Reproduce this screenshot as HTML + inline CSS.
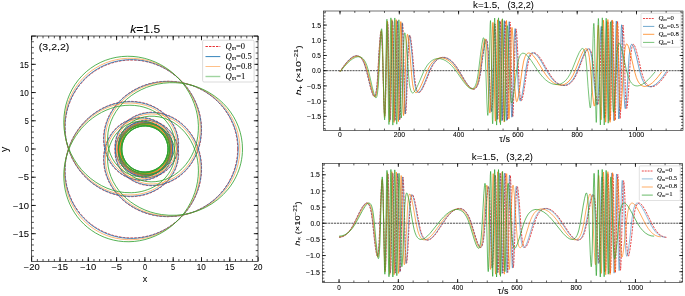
<!DOCTYPE html>
<html><head><meta charset="utf-8"><style>
html,body{margin:0;padding:0;background:#fff;}
svg{display:block;will-change:transform;}
text{font-family:"Liberation Sans",sans-serif;fill:#000;stroke:#000;stroke-width:0.06px;}
</style></head><body>
<svg width="685" height="296" viewBox="0 0 685 296">
<rect width="685" height="296" fill="#fff"/>
<clipPath id="cl"><rect x="31.6" y="36.0" width="226.4" height="225.3"/></clipPath>
<g clip-path="url(#cl)" fill="none">
<path d="M237.71 149.00l-.12 -3.92 -.35 -3.92 -.59 -3.88 -.82 -3.84 -1.05 -3.8 -1.28 -3.74 -1.49 -3.65 -1.71 -3.56 -1.92 -3.45 -2.13 -3.35 -2.33 -3.22 -2.52 -3.1 -2.71 -2.95 -2.86 -2.78 -3.04 -2.62 -3.18 -2.45 -3.32 -2.26 -3.47 -2.09 -3.57 -1.87 -3.69 -1.68 -3.79 -1.47 -3.84 -1.24 -3.92 -1.03 -3.97 -.8 -4.03 -.58 -4.03 -.35 -4.05 -.13 -4.03 .11 -4.03 .34 -3.98 .56 -3.95 .8 -3.87 1.01 -4.22 1.38 -4.1 1.65 -3.96 1.9 -3.81 2.15 -3.64 2.4 -3.46 2.62 -3.26 2.83 -3.01 3.02 -2.8 3.22 -2.53 3.38 -2.27 3.53 -1.98 3.65 -1.7 3.77 -1.39 3.84 -1.08 3.92 -.77 3.97 -.46 4.1 -.11 4.06 .23 4.03 .57 3.95 .91 3.88 1.23 3.74 1.55 3.57 1.86 3.4 2.16 3.19 2.44 2.96 2.7 2.69 2.92 2.4 3.11 2.07 3.32 1.76 3.44 1.39 3.51 1.03 4.01 .69 4.07 .23 4.01 -.27 3.96 -.74 3.83 -1.22 3.59 -1.66 3.34 -2.08 3.05 -2.48 2.69 -2.83 2.33 -3.19 1.87 -3.43 1.4 -3.63 .91 -3.76 .39 -3.87 -.12 -3.85 -.64 -3.77 -1.06 -3.45 -1.51 -3.3 -1.89 -3.04 -2.28 -2.79 -2.64 -2.48 -2.9 -2.09 -3.16 -1.7 -3.36 -1.28 -3.52 -.82 -3.54 -.35 -3.57 .11 -3.53 .59 -3.43 1.06 -3.21 1.48 -2.99 1.89 -2.72 2.27 -2.43 2.67 -2.05 2.97 -1.62 3.24 -1.15 3.36 -.7 3.56 -.2 3.56 .29 3.56 .78 3.49 1.24 3.35 1.69 3.16 2.11 2.9 2.48 2.58 2.82 2.23 3.1 1.81 3.33 1.38 3.48 .9 3.51 .42 3.54 -.06 3.5 -.54 3.39 -1 3.23 -1.45 2.95 -1.84 2.72 -2.26 2.39 -2.6 1.98 -2.85 1.61 -3.14 1.17 -3.33 .71 -3.46 .23 -3.52 -.24 -3.51 -.72 -3.45 -1.18 -3.32 -1.61 -3.13 -2.02 -2.89 -2.38 -2.58 -2.71 -2.25 -2.98 -1.86 -3.2 -1.44 -3.36 -1.01 -3.52 -.56 -3.5 -.09 -3.54 .38 -3.39 .84 -3.3 1.29 -3.09 1.71 -2.84 2.1 -2.53 2.45 -2.21 2.8 -2.09 3.61 -1.52 3.92 -.89 4.1 -.25 4.17 .39 4.2 1.03 4.08 1.65 3.91 2.22 3.6 2.71 3.2 3.19 2.79 3.59 2.31 3.87 1.74 4.16 1.19 4.25 .56 4.3 -.06 4.27 -.67 3.84 -1.15 3.72 -1.67 3.43 -2.1 3.19 -2.57 2.84 -2.94 2.48 -3.32 2.05 -3.6 1.61 -3.86 1.13 -4.01 .66 -4.14 .17 -4.23 -.31 -4.28 -.81 -4.24 -1.27 -4.14 -1.74 -4.02 -2.16 -3.81 -3.07 -4.23 -3.59 -3.85 -4.06 -3.45 -4.52 -3.02 -4.87 -2.51 -5.15 -1.97 -5.42 -1.43 -5.59 -.86 -5.69 -.28 -5.72 .28 -5.72 .85 -5.67 1.42 -5.58 1.96 -5.39 2.49 -5.18 2.99 -4.92 3.47 -3.87 3.23 -3.63 3.51 -3.37 3.78 -3.1 4.04 -2.82 4.27 -2.49 4.46 -2.17 4.61 -1.83 4.78 -1.49 4.89 -1.13 5 -.77 5.04 -.4 5.08 -.03 5.1 .33 5.07 .71 5.02 1.06 4.95 1.42 4.83 1.76 4.7 2.11 4.56 2.43 4.38 2.74 4.16 3.05 3.96 3.33 3.7 3.58 3.44 3.83 3.15 4.06 2.86 4.28 2.55 4.44 2.21 4.61 1.87 4.74 1.53 4.85 1.17 4.92 .8 3.72 .35 3.73 .15 3.74 -.05 3.73 -.26 3.72 -.47 3.7 -.68 3.65 -.87 3.61 -1.07 3.56 -1.27 3.49 -1.46 3.41 -1.66 3.31 -1.83 3.23 -2.01 3.11 -2.18 2.99 -2.36 2.87 -2.51 2.73 -2.65 2.59 -2.82 2.43 -2.92 2.27 -3.07 2.11 -3.19 1.92 -3.27 1.74 -3.37 1.56 -3.45 1.36 -3.53 1.17 -3.59 .97 -3.64 .76 -3.69 .56 -3.71 .35 -3.7 .14 -3.71 -.07 -3.69 -.32 -4.11 -.59 -4.07 -.85 -4 -1.12 -3.94 -1.36 -3.81 -1.6 -3.67 -1.85 -3.54 -2.08 -3.39 -2.3 -3.22 -2.5 -3 -2.69 -2.79 -2.86 -2.57 -3.02 -2.32 -3.19 -2.08 -3.31 -1.81 -3.43 -1.54 -3.58 -1.27 -3.65 -.96 -3.71 -.64 -3.7 -.32 -3.72 .01 -3.64 .34 -3.57 .65 -3.5 .98 -3.36 1.29 -3.23 1.6 -3.02 1.88 -2.79 2.14 -2.56 2.39 -2.3 2.63 -2.03 2.85 -1.69 2.98 -1.59 3.72 -1.12 3.87 -.62 3.99 -.12 3.96 .39 3.99 .88 3.84 1.37 3.68 1.85 3.5 2.28 3.2 2.67 2.86 3.01 2.46 3.33 2.05 3.54 1.56 3.75 1.08 3.82 .55 3.89 .03 3.57 -.46 3.5 -.93 3.31 -1.35 3.11 -1.77 2.87 -2.17 2.52 -2.49 2.18 -2.81 1.79 -3.08 1.38 -3.29 .91 -3.4 .46 -3.55 -.01 -3.53 -.48 -3.5 -.95 -3.42 -1.4 -3.26 -1.83 -3.05 -2.26 -2.82 -2.59 -2.45 -2.9 -2.09 -3.16 -1.67 -3.37 -1.23 -3.5 -.77 -3.57 -.28 -3.53 .2 -3.52 .69 -3.4 1.16 -3.21 1.62 -2.91 2 -2.65 2.43 -2.26 2.71 -1.9 3.05 -1.44 3.22 -.99 3.39 -.53 3.5 -.04 3.53 .44 3.5 .91 3.41 1.36 3.26 1.79 3.04 2.23 2.82 2.55 2.45 2.86 2.07 3.11 1.68 3.36 1.26 3.45 .78 3.51 .31 3.52 -.17 3.53 -.65 3.34 -1.1 3.17 -1.53 2.93 -1.94 2.68 -2.34 2.3 -2.64 1.97 -2.97 1.51 -3.14 1.11 -3.37 .65 -3.48 .17 -3.52 -.29 -3.52 -.77 -3.49 -1.2 -3.3 -1.65 -3.16 -2.04 -2.91 -2.41 -2.61 -3.45 -2.79 -3.84 -2.18 -4.12 -1.54 -4.35 -.88 -4.42 -.17 -4.42 .53 -4.31 1.22 -4.04 1.86 -3.73 2.48 -3.31 3.04 -2.8 3.47 -2.27 3.91 -1.66 4.22 -1.01 4.43 -.36 4.58 .32 4.59 .85 4.08 1.39 3.99 1.91 3.82 2.38 3.54 2.82 3.25 3.22 2.9 3.57 2.51 3.86 2.07 4.09 1.63 4.25 1.15 4.46 .68 4.5 .19 4.53 -.3 4.55 -.78 4.49 -1.28 4.36 -1.73 5.01 -2.66 4.71 -3.26 4.35 -3.8 3.95 -4.33 3.5 -4.78 2.99 -5.17 2.47 -5.51 1.9 -5.8 1.33 -5.97 .74 -6.14 .15 -6.25 -.46 -6.25 -1.04 -6.23 -1.62 -6.13 -2.19 -5.99 -2.73 -5.76 -2.89 -4.96 -3.29 -4.72 -3.67 -4.45 -4 -4.12 -4.33 -3.8 -4.61 -3.43 -4.87 -3.04 -5.1 -2.63 -5.28 -2.21 -5.43 -1.76 -5.53 -1.3 -5.62 -.84 -5.64 -.37 -5.66 .1 -5.6 .57 -5.53 1.05 -5.4 1.5 -5.25 1.94 -5.06 2.39 -4.84 2.81 -4.59 3.2 -4.29 3.59 -3.98 3.94 -3.64 4.27 -3.27 4.57 -2.88 4.84 -2.48 5.08 -2.04 5.27 -1.61 5.44 -1.15 5.57 -.7 5.65 -.23 5.71 .31 6.62 .93 6.57 1.55 6.48 2.14 6.3 2.73 6.07 3.26 5.77 3.79 5.43 4.29 5.05 4.73 4.6 5.13 4.11 5.45 3.55 5.75 2.99 5.98 2.38 6.13 1.74 6.22 1.08 6.21 .42 3.43 -.06 3.38 -.27 3.35 -.47 3.27 -.66 3.24 -.88 3.13 -1.07 3.04 -1.26 2.92 -1.45 2.81 -1.62 2.7 -1.82 2.51 -1.96 2.38 -2.14 2.2 -2.28 2.01 -2.39 1.83 -2.54 1.62 -2.64 1.43 -2.78 1.21 -2.85 .97 -2.92 .75 -2.99 .5 -3.03 .25 -3.01 .01 -3.06 -.24 -2.99 -.48 -2.94 -.74 -2.92 -.97 -2.79 -1.21 -2.72 -1.44 -2.59 -1.64 -2.44 -1.84 -2.26 -2.01 -2.07 -3.02 -2.51 -3.24 -2.1 -3.46 -1.67 -3.63 -1.24 -3.73 -.77 -3.83 -.29 -3.76 .18 -3.74 .66 -3.64 1.15 -3.43 1.59 -3.16 2.01 -2.89 2.42 -2.52 2.75 -2.15 3.08 -1.69 3.29 -1.25 3.51 -.74 3.48 -.28 3.5 .16 3.52 .63 3.47 1.08 3.38 1.48 3.17 1.92 3 2.27 2.68 2.61 2.37 2.9 2.01 3.15 1.61 3.29 1.17 3.41 .73 3.49 .28 3.49 -.18 3.45 -.65 3.39 -1.12 3.16 -1.53 2.93 -1.95 2.64 -2.32 2.31 -2.65 1.93 -2.94 1.53 -3.17 1.08 -3.36 .62 -3.46 .14 -3.52 -.33 -3.52 -.81 -3.43 -1.26 -3.29 -1.7 -3.1 -2.1 -2.84 -2.43 -2.49 -2.78 -2.17 -3 -1.76 -3.21 -1.34 -3.42 -.91 -3.45 -.45 -3.54 .03 -3.44 .49 -3.4 .95 -3.19 1.39 -3.02 1.82 -2.75 2.21 -2.42 2.56 -2.03 2.81 -1.65 3.11 -1.23 3.29 -.77 3.43 -.3 3.43 .16 3.5 .62 3.45 1.07 3.33 1.51 3.15 1.9 2.93 2.27 2.65 2.6 2.32 2.87 1.96 3.16 1.6 3.27 1.14 3.44 .73 3.51 .27 3.56 -.2 3.43 -.63 3.37 -1.1 3.87 -1.9 3.51 -2.47 3.11 -3.01 2.58 -3.44 2.05 -3.82 1.42 -4.08 .79 -4.27 .13 -4.37 -.53 -4.3 -1.17 -4.21 -1.79 -4 -2.37 -3.71 -2.89 -3.34 -3.35 -2.89 -3.78 -2.42 -4.08 -1.86 -3.94 -1.2 -4.12 -.69 -4.16 -.18 -4.2 .34 -4.16 .85 -4.02 1.35 -3.9 1.83 -3.68 2.3 -3.4 2.7 -3.08 3.08 -2.76 3.44 -2.37 3.72 -1.99 4.02 -1.58 4.24 -1.13 4.4 -.7 4.55 -.24 5.31 .35 5.4 .94 5.35 1.52 5.29 2.07 5.15 2.63 4.99 3.12 4.72 3.63 4.47 4.04 4.11 4.46 3.77 4.82 3.35 5.14 2.93 5.42 2.47 5.62 2 5.84 1.51 5.94 1 7.34 .52 7.39 -.23 7.33 -1 7.18 -1.75 6.97 -2.48 6.65 -3.18 6.27 -3.84 5.82 -4.46 5.3 -5.03 4.71 -5.54 4.08 -5.99 3.41 -6.37 2.69 -6.69 1.94 -6.91 1.18 -7.07 .39 -7.17" stroke="#e41a1c" stroke-width="0.8" stroke-opacity="1" stroke-dasharray="2.6 1.2"/>
<path d="M238.23 149.00l-.12 -3.92 -.35 -3.89 -.59 -3.88 -.81 -3.83 -1.05 -3.77 -1.27 -3.72 -1.5 -3.65 -1.7 -3.55 -1.92 -3.45 -2.12 -3.33 -2.32 -3.21 -2.51 -3.09 -2.7 -2.94 -2.86 -2.78 -3.03 -2.62 -3.17 -2.44 -3.32 -2.26 -3.45 -2.08 -3.58 -1.88 -3.67 -1.67 -3.76 -1.47 -3.85 -1.25 -3.92 -1.04 -3.96 -.81 -4.01 -.59 -4.04 -.36 -4.04 -.13 -4.03 .1 -4.02 .32 -3.98 .55 -3.95 .78 -3.88 1 -4.21 1.36 -4.12 1.64 -3.97 1.88 -3.83 2.14 -3.66 2.38 -3.46 2.59 -3.26 2.81 -3.04 3.02 -2.8 3.19 -2.55 3.37 -2.28 3.51 -2.01 3.66 -1.72 3.76 -1.4 3.83 -1.11 3.91 -.78 3.93 -.47 4.06 -.13 4.07 .21 4.02 .55 3.96 .89 3.85 1.23 3.75 1.54 3.58 1.84 3.37 2.16 3.21 2.42 2.93 2.67 2.67 2.93 2.41 3.09 2.05 3.28 1.74 3.41 1.38 3.54 1.01 3.97 .68 4.04 .21 3.98 -.28 3.86 -.74 3.79 -1.22 3.55 -1.66 3.31 -2.08 3 -2.47 2.65 -2.82 2.29 -3.16 1.81 -3.36 1.37 -3.6 .88 -3.72 .37 -3.83 -.14 -3.81 -.65 -3.72 -1.07 -3.41 -1.51 -3.25 -1.88 -3 -2.27 -2.74 -2.62 -2.43 -2.88 -2.05 -3.13 -1.66 -3.33 -1.24 -3.47 -.79 -3.5 -.33 -3.53 .14 -3.48 .6 -3.37 1.06 -3.16 1.48 -2.99 1.92 -2.66 2.26 -2.38 2.65 -2 2.95 -1.58 3.2 -1.11 3.33 -.66 3.52 -.17 3.51 .3 3.51 .79 3.44 1.25 3.3 1.68 3.1 2.1 2.85 2.47 2.53 2.8 2.18 3.07 1.77 3.28 1.34 3.44 .88 3.47 .39 3.49 -.08 3.44 -.54 3.34 -1.01 3.18 -1.45 2.95 -1.86 2.67 -2.24 2.34 -2.58 1.97 -2.88 1.56 -3.11 1.13 -3.29 .67 -3.41 .2 -3.48 -.26 -3.46 -.73 -3.4 -1.19 -3.26 -1.61 -3.08 -2 -2.83 -2.37 -2.54 -2.68 -2.19 -2.95 -1.82 -3.17 -1.41 -3.32 -.98 -3.47 -.53 -3.45 -.07 -3.49 .39 -3.4 .86 -3.25 1.29 -3.04 1.71 -2.78 2.1 -2.48 2.43 -2.17 2.78 -2.04 3.57 -1.48 3.9 -.86 4.06 -.22 4.13 .42 4.15 1.05 4.03 1.64 3.8 2.21 3.55 2.75 3.2 3.18 2.73 3.57 2.26 3.85 1.69 4.07 1.12 4.21 .52 4.27 -.09 4.22 -.7 3.79 -1.17 3.67 -1.68 3.38 -2.12 3.13 -2.56 2.78 -2.95 2.4 -3.26 2 -3.58 1.57 -3.83 1.09 -3.98 .62 -4.12 .14 -4.19 -.35 -4.19 -.82 -4.2 -1.3 -4.09 -1.75 -3.98 -2.16 -3.76 -3.08 -4.18 -3.59 -3.8 -4.06 -3.4 -4.47 -2.95 -4.82 -2.45 -5.12 -1.93 -5.36 -1.39 -5.55 -.84 -5.66 -.27 -5.67 .3 -5.68 .85 -5.63 1.41 -5.54 1.95 -5.35 2.47 -5.15 2.96 -4.88 3.43 -3.89 3.23 -3.64 3.51 -3.38 3.78 -3.11 4.03 -2.83 4.25 -2.5 4.45 -2.19 4.62 -1.85 4.76 -1.5 4.89 -1.15 4.97 -.79 5.06 -.42 5.08 -.06 5.09 .32 5.06 .67 5.03 1.05 4.95 1.39 4.84 1.74 4.7 2.09 4.57 2.41 4.38 2.71 4.17 3.02 3.96 3.32 3.72 3.57 3.45 3.82 3.17 4.03 2.86 4.25 2.55 4.44 2.23 4.58 1.89 4.73 1.53 4.83 1.18 4.92 .82 3.71 .36 3.71 .16 3.72 -.04 3.73 -.25 3.72 -.46 3.68 -.66 3.65 -.86 3.61 -1.06 3.55 -1.25 3.48 -1.45 3.42 -1.64 3.31 -1.82 3.22 -1.99 3.11 -2.16 2.99 -2.33 2.88 -2.5 2.74 -2.65 2.6 -2.78 2.44 -2.93 2.29 -3.04 2.12 -3.17 1.93 -3.25 1.77 -3.37 1.57 -3.44 1.39 -3.51 1.19 -3.58 .99 -3.63 .79 -3.66 .59 -3.68 .38 -3.7 .17 -3.71 -.04 -3.7 -.29 -4.11 -.56 -4.09 -.81 -4.02 -1.08 -3.92 -1.32 -3.81 -1.57 -3.71 -1.81 -3.54 -2.04 -3.41 -2.27 -3.23 -2.46 -3.02 -2.68 -2.84 -2.84 -2.58 -2.99 -2.35 -3.17 -2.11 -3.29 -1.83 -3.38 -1.56 -3.56 -1.29 -3.66 -1 -3.66 -.66 -3.7 -.35 -3.68 -.02 -3.65 .3 -3.58 .63 -3.47 .95 -3.38 1.27 -3.2 1.57 -3 1.85 -2.8 2.13 -2.58 2.39 -2.29 2.6 -2.01 2.8 -1.7 2.99 -1.58 3.68 -1.11 3.84 -.63 3.95 -.11 3.92 .37 3.9 .88 3.81 1.34 3.64 1.83 3.46 2.26 3.17 2.64 2.83 2.97 2.43 3.29 2.03 3.51 1.55 3.71 1.06 3.78 .54 3.78 .03 3.53 -.45 3.46 -.91 3.26 -1.33 3.08 -1.75 2.83 -2.14 2.49 -2.45 2.19 -2.82 1.77 -3.04 1.36 -3.25 .91 -3.41 .45 -3.5 -.03 -3.49 -.48 -3.45 -.95 -3.37 -1.38 -3.21 -1.81 -3 -2.24 -2.79 -2.56 -2.41 -2.87 -2.06 -3.11 -1.64 -3.32 -1.21 -3.46 -.75 -3.53 -.28 -3.53 .21 -3.48 .69 -3.35 1.15 -3.16 1.61 -2.86 1.98 -2.62 2.4 -2.22 2.68 -1.87 3.01 -1.41 3.18 -.97 3.35 -.51 3.44 -.04 3.48 .43 3.46 .9 3.36 1.35 3.21 1.76 3 2.2 2.78 2.52 2.41 2.81 2.06 3.07 1.65 3.32 1.24 3.39 .78 3.53 .3 3.47 -.16 3.48 -.64 3.3 -1.09 3.12 -1.51 2.88 -1.91 2.65 -2.32 2.27 -2.6 1.94 -2.93 1.52 -3.15 1.09 -3.32 .63 -3.44 .17 -3.48 -.29 -3.46 -.77 -3.45 -1.21 -3.31 -1.64 -3.11 -2.02 -2.87 -2.38 -2.57 -3.43 -2.74 -3.81 -2.16 -4.09 -1.51 -4.31 -.84 -4.38 -.15 -4.37 .54 -4.27 1.23 -3.99 1.88 -3.67 2.48 -3.23 2.98 -2.75 3.46 -2.22 3.89 -1.62 4.2 -.98 4.39 -.32 4.5 .34 4.54 .87 4.04 1.41 3.94 1.89 3.73 2.37 3.5 2.81 3.2 3.18 2.83 3.55 2.47 3.84 2.04 4.06 1.59 4.23 1.12 4.42 .65 4.47 .17 4.5 -.32 4.5 -.81 4.42 -1.27 4.31 -1.74 4.93 -2.64 4.68 -3.26 4.31 -3.8 3.9 -4.28 3.46 -4.75 2.96 -5.14 2.44 -5.46 1.89 -5.75 1.32 -5.94 .75 -6.1 .15 -6.18 -.43 -6.21 -1.01 -6.18 -1.58 -6.1 -2.14 -5.95 -2.69 -5.78 -2.86 -4.97 -3.27 -4.76 -3.64 -4.47 -4 -4.17 -4.32 -3.84 -4.6 -3.47 -4.87 -3.07 -5.08 -2.67 -5.27 -2.24 -5.43 -1.8 -5.54 -1.34 -5.6 -.87 -5.65 -.4 -5.66 .07 -5.61 .54 -5.54 1.02 -5.4 1.47 -5.26 1.93 -5.08 2.36 -4.85 2.79 -4.6 3.2 -4.31 3.57 -3.98 3.93 -3.65 4.26 -3.28 4.56 -2.9 4.85 -2.48 5.07 -2.05 5.27 -1.62 5.45 -1.16 5.57 -.7 5.66 -.24 5.72 .31 6.62 .92 6.55 1.53 6.45 2.12 6.29 2.71 6.07 3.24 5.77 3.76 5.43 4.25 5.05 4.68 4.6 5.09 4.12 5.42 3.59 5.73 3.02 5.93 2.41 6.1 1.78 6.18 1.13 6.22 .47 3.42 -.03 3.38 -.24 3.35 -.44 3.26 -.64 3.21 -.84 3.14 -1.03 3.04 -1.23 2.94 -1.42 2.82 -1.6 2.68 -1.78 2.53 -1.94 2.37 -2.08 2.22 -2.26 2.03 -2.38 1.83 -2.49 1.64 -2.62 1.47 -2.78 1.22 -2.84 1 -2.93 .75 -2.94 .52 -2.99 .27 -3.02 .03 -3.02 -.23 -2.99 -.47 -2.96 -.72 -2.88 -.96 -2.8 -1.18 -2.69 -1.41 -2.56 -1.64 -2.45 -1.81 -2.23 -2.02 -2.08 -2.98 -2.49 -3.21 -2.08 -3.43 -1.66 -3.59 -1.22 -3.69 -.76 -3.79 -.29 -3.72 .18 -3.69 .66 -3.55 1.11 -3.39 1.58 -3.13 1.98 -2.86 2.39 -2.49 2.72 -2.12 3.04 -1.7 3.31 -1.23 3.46 -.72 3.44 -.27 3.45 .17 3.48 .62 3.43 1.07 3.33 1.47 3.12 1.9 2.96 2.24 2.64 2.58 2.34 2.87 1.98 3.1 1.59 3.24 1.15 3.43 .72 3.44 .27 3.45 -.19 3.4 -.65 3.34 -1.11 3.11 -1.52 2.93 -1.96 2.6 -2.3 2.27 -2.62 1.9 -2.91 1.49 -3.13 1.05 -3.31 .6 -3.42 .13 -3.48 -.33 -3.46 -.81 -3.38 -1.25 -3.25 -1.68 -3.05 -2.08 -2.79 -2.44 -2.49 -2.76 -2.14 -2.96 -1.72 -3.17 -1.31 -3.37 -.9 -3.4 -.42 -3.49 .03 -3.45 .5 -3.36 .96 -3.13 1.38 -2.97 1.81 -2.71 2.19 -2.38 2.54 -1.98 2.77 -1.63 3.07 -1.19 3.25 -.75 3.38 -.29 3.39 .16 3.45 .62 3.4 1.06 3.28 1.49 3.11 1.89 2.88 2.24 2.61 2.61 2.32 2.84 1.93 3.12 1.56 3.29 1.14 3.4 .7 3.46 .25 3.51 -.21 3.38 -.65 3.33 -1.09 3.81 -1.9 3.46 -2.46 3.06 -2.99 2.55 -3.42 2 -3.81 1.38 -4.04 .75 -4.23 .1 -4.33 -.55 -4.26 -1.19 -4.16 -1.81 -3.95 -2.38 -3.65 -2.89 -3.29 -3.35 -2.83 -3.72 -2.34 -4.06 -1.81 -3.91 -1.15 -4.08 -.65 -4.13 -.15 -4.16 .38 -4.11 .88 -3.97 1.36 -3.81 1.84 -3.62 2.3 -3.32 2.68 -3.04 3.07 -2.71 3.43 -2.32 3.7 -1.94 3.96 -1.54 4.22 -1.1 4.37 -.67 4.52 -.22 5.27 .38 5.36 .95 5.31 1.53 5.25 2.09 5.11 2.62 4.94 3.13 4.71 3.61 4.42 4.03 4.08 4.43 3.72 4.8 3.34 5.1 2.91 5.38 2.46 5.6 1.99 5.78 1.51 5.93 1.01 7.38 .55 7.39 -.21 7.34 -.98 7.22 -1.74 6.98 -2.46 6.68 -3.16 6.3 -3.84 5.84 -4.46 5.32 -5.02 4.73 -5.53 4.1 -5.99 3.42 -6.37 2.7 -6.67 1.95 -6.92 1.17 -7.07 .4 -7.17" stroke="#1f77b4" stroke-width="0.8" stroke-opacity="1"/>
<path d="M239.92 149.00l-.25 -5.62 -.73 -5.58 -1.23 -5.52 -1.71 -5.39 -2.17 -5.25 -2.62 -5.04 -3.06 -4.82 -3.46 -4.54 -3.86 -4.27 -4.21 -3.94 -4.56 -3.6 -4.83 -3.21 -5.11 -2.81 -5.33 -2.39 -5.52 -1.96 -5.66 -1.5 -5.97 -1.07 -6.05 -.57 -6.05 -.06 -6.05 .45 -5.96 .96 -5.82 1.45 -5.65 1.94 -5.44 2.41 -5.16 2.86 -4.85 3.29 -4.51 3.69 -4.08 4.03 -3.66 4.38 -3.17 4.65 -2.68 4.89 -2.13 5.08 -1.7 5.7 -1 5.76 -.31 5.76 .4 5.7 1.11 5.54 1.79 5.27 2.46 4.93 3.06 4.49 3.67 4.02 4.18 3.42 2.23 1.44 2.35 1.28 2.39 1.08 2.48 .89 2.53 .7 2.55 .49 2.61 .3 2.59 .08 2.57 -.12 2.56 -.34 2.51 -.53 2.46 -.75 3.31 -1.38 3.1 -1.74 2.85 -2.09 2.57 -2.41 2.24 -2.67 1.91 -2.95 1.52 -3.13 1.12 -3.33 .69 -3.4 .25 -3.49 -.19 -3.46 -.62 -3.36 -1.06 -3.27 -1.47 -3.12 -1.84 -2.88 -2.22 -2.62 -2.45 -2.24 -2.72 -1.92 -2.96 -1.56 -3.09 -1.15 -3.22 -.75 -3.3 -.33 -3.33 .1 -3.29 .53 -3.2 .95 -2.99 1.34 -2.81 1.72 -2.55 2.08 -2.27 2.39 -1.94 2.67 -1.57 2.91 -1.15 3.04 -.76 3.22 -.33 3.3 .12 3.31 .55 3.21 .99 3.17 1.4 3.02 1.8 2.8 2.11 2.5 2.48 2.23 2.71 1.85 2.98 1.5 3.1 1.07 3.28 .66 3.27 .21 3.34 -.23 3.22 -.66 3.1 -1.08 2.93 -1.48 2.7 -1.86 2.44 -2.2 2.12 -2.5 1.77 -2.76 1.39 -2.96 .99 -3.19 .55 -3.22 .12 -3.27 -.32 -3.26 -.76 -3.24 -1.17 -3.05 -1.59 -2.92 -1.93 -2.64 -2.3 -2.4 -2.55 -2.03 -2.79 -1.69 -2.99 -1.3 -3.19 -.92 -3.21 -.48 -3.31 -.06 -3.29 .37 -3.2 .8 -3.07 1.21 -2.87 1.59 -2.64 1.95 -2.37 2.27 -2.04 2.54 -1.73 2.84 -1.34 3.02 -.94 3.16 -.58 3.86 .01 3.88 .61 3.88 1.17 3.73 1.73 3.55 2.23 3.24 2.71 2.9 3.09 2.46 3.4 1.98 3.67 1.48 3.87 .94 3.99 .39 4.03 -.17 3.93 -.74 3.86 -1.28 3.65 -1.82 3.12 -2.09 2.88 -2.51 2.56 -2.85 2.19 -3.15 1.81 -3.43 1.4 -3.61 .97 -3.8 .53 -3.92 .08 -3.94 -.37 -4 -.8 -3.91 -1.24 -3.87 -1.67 -3.76 -2.05 -3.57 -2.44 -3.38 -2.79 -3.16 -3.39 -3.12 -3.74 -2.78 -4.07 -2.42 -4.32 -2.02 -4.52 -1.6 -4.74 -1.19 -4.87 -.74 -4.99 -.3 -5.02 .14 -5.04 .59 -5.01 1.03 -4.94 1.46 -4.86 1.88 -4.71 2.27 -4.55 2.67 -4.35 3.04 -3.89 3.18 -3.68 3.49 -3.42 3.75 -3.16 4.02 -2.86 4.21 -2.56 4.43 -2.24 4.61 -1.91 4.75 -1.57 4.88 -1.21 4.96 -.85 5.03 -.5 5.08 -.12 5.09 .24 5.08 .6 5.02 .96 4.95 1.33 4.86 1.66 4.72 2 4.56 2.34 4.4 2.64 4.2 2.95 3.98 3.24 3.74 3.5 3.47 3.75 3.2 3.98 2.9 4.19 2.59 4.39 2.26 4.53 1.92 4.69 1.58 4.79 1.21 4.87 .85 3.65 .4 3.66 .19 3.68 -.01 3.69 -.22 3.68 -.42 3.66 -.61 3.62 -.82 3.59 -1.01 3.54 -1.22 3.46 -1.39 6.72 -3.35 6.34 -4.06 5.9 -4.72 5.38 -5.32 4.8 -5.86 4.16 -6.32 1.82 -3.33 1.64 -3.39 1.46 -3.49 1.26 -3.53 1.07 -3.6 .87 -3.62 .67 -3.67 .47 -3.66 .27 -3.68 .06 -3.68 -.18 -4.14 -.43 -4.06 -.7 -4.04 -.95 -3.92 -1.21 -3.86 -1.45 -3.73 -1.69 -3.6 -1.91 -3.43 -2.15 -3.27 -2.36 -3.1 -2.55 -2.88 -2.73 -2.67 -2.91 -2.43 -3.06 -2.18 -3.18 -1.92 -3.33 -1.66 -3.52 -1.41 -3.59 -1.09 -3.61 -.76 -3.65 -.45 -3.66 -.12 -3.59 .21 -3.52 .54 -3.48 .86 -3.34 1.18 -3.21 1.5 -3.02 1.79 -2.78 2.05 -2.56 2.32 -2.31 2.57 -1.99 2.74 -1.69 2.93 -1.53 3.53 -1.08 3.68 -.61 3.78 -.13 3.76 .35 3.74 .83 3.69 1.3 3.53 1.74 3.32 2.15 3.03 2.56 2.74 2.87 2.36 3.14 1.93 3.4 1.5 3.53 1.01 3.65 .52 3.65 .02 3.4 -.44 3.27 -.87 3.14 -1.28 2.96 -1.68 2.72 -2.07 2.39 -2.37 2.06 -2.66 1.69 -2.92 1.3 -3.13 .87 -3.28 .42 -3.37 -.03 -3.34 -.47 -3.32 -.92 -3.23 -1.34 -3.08 -1.74 -2.88 -2.17 -2.66 -2.46 -2.31 -2.76 -1.96 -3 -1.57 -3.19 -1.15 -3.32 -.7 -3.39 -.25 -3.33 .21 -3.33 .67 -3.21 1.12 -3.03 1.54 -2.74 1.91 -2.51 2.31 -2.16 2.63 -1.77 2.9 -1.34 3.06 -.93 3.27 -.46 3.31 -.01 3.34 .45 3.3 .88 3.22 1.32 3.07 1.72 2.86 2.13 2.66 2.43 2.29 2.72 1.94 2.95 1.56 3.19 1.17 3.27 .71 3.38 .27 3.33 -.19 3.34 -.65 3.15 -1.06 2.98 -1.48 2.75 -1.86 2.52 -2.24 2.16 -2.52 1.83 -2.82 1.43 -3.05 1.01 -3.2 .58 -3.3 .13 -3.34 -.32 -3.32 -.76 -3.31 -1.18 -3.11 -1.59 -2.98 -1.98 -2.73 -2.31 -2.45 -3.3 -2.6 -3.72 -2.06 -3.99 -1.41 -4.15 -.76 -4.25 -.09 -4.19 .59 -4.07 1.24 -3.86 1.89 -3.48 2.44 -3.09 2.97 -2.6 3.41 -2.06 3.79 -1.47 4.07 -.85 4.25 -.21 4.33 .43 4.38 .92 3.85 1.43 3.75 1.93 3.59 2.35 3.31 2.78 3.02 3.11 2.66 3.47 2.3 3.75 1.9 3.95 1.45 4.1 1 4.24 .54 4.33 .08 4.34 -.38 4.31 -.84 4.26 -1.3 4.16 -1.74 4.74 -2.61 4.5 -3.2 4.14 -3.73 3.77 -4.2 3.33 -4.64 2.88 -5.03 2.36 -5.33 1.84 -5.62 1.3 -5.78 .75 -5.95 .19 -6.05 -.37 -6.08 -.92 -6.06 -1.48 -6 -2.01 -5.87 -2.52 -5.68 -2.8 -5.1 -3.19 -4.84 -3.58 -4.58 -3.94 -4.29 -4.27 -3.94 -4.57 -3.59 -4.83 -3.2 -5.07 -2.78 -5.26 -2.36 -5.41 -1.91 -5.54 -1.45 -5.62 -.98 -5.67 -.5 -5.66 -.03 -5.63 .46 -5.56 .93 -5.44 1.4 -5.28 1.86 -5.09 2.3 -4.89 2.74 -4.61 3.15 -4.35 3.54 -4.02 3.92 -3.68 4.24 -3.3 4.57 -2.91 4.82 -2.5 5.09 -2.07 5.28 -1.63 5.46 -1.17 5.61 -.7 5.69 -.24 5.76 .3 6.52 .91 6.5 1.5 6.41 2.07 6.24 2.64 6.02 3.17 5.75 3.68 5.43 4.16 5.06 4.6 4.64 4.97 4.16 5.32 3.64 5.6 3.09 5.83 2.51 6.01 1.9 6.08 1.26 6.12 .61 3.4 .06 3.35 -.15 3.34 -.35 3.27 -.55 3.22 -.75 3.11 -.94 3.04 -1.14 2.93 -1.32 2.82 -1.51 2.7 -1.68 2.55 -1.85 2.4 -2.01 2.22 -2.15 2.07 -2.3 1.87 -2.43 1.66 -2.52 1.49 -2.68 1.28 -2.79 1.04 -2.84 .81 -2.91 .56 -2.96 .32 -2.94 .07 -3 -.18 -2.93 -.43 -2.89 -.67 -2.83 -.91 -2.75 -1.16 -2.68 -1.36 -2.51 -1.59 -2.39 -1.79 -2.23 -1.97 -2.03 -2.86 -2.39 -3.07 -1.98 -3.28 -1.59 -3.48 -1.18 -3.58 -.73 -3.62 -.27 -3.59 .18 -3.57 .65 -3.43 1.1 -3.27 1.54 -3.01 1.94 -2.7 2.3 -2.39 2.64 -1.99 2.9 -1.6 3.15 -1.16 3.35 -.67 3.31 -.24 3.32 .19 3.34 .62 3.29 1.06 3.19 1.43 2.99 1.82 2.78 2.17 2.52 2.49 2.22 2.76 1.89 3 1.5 3.11 1.08 3.3 .67 3.3 .23 3.31 -.21 3.25 -.64 3.2 -1.1 2.97 -1.48 2.75 -1.87 2.48 -2.22 2.2 -2.58 1.79 -2.8 1.4 -3.02 .99 -3.18 .54 -3.29 .1 -3.33 -.35 -3.31 -.8 -3.24 -1.23 -3.1 -1.64 -2.91 -2.01 -2.67 -2.37 -2.36 -2.66 -2.03 -2.85 -1.62 -3.1 -1.25 -3.25 -.82 -3.26 -.37 -3.34 .06 -3.31 .52 -3.2 .96 -2.99 1.35 -2.83 1.77 -2.57 2.13 -2.26 2.45 -1.9 2.73 -1.52 2.96 -1.11 3.14 -.67 3.25 -.24 3.25 .2 3.3 .64 3.25 1.06 3.14 1.47 2.96 1.84 2.74 2.19 2.47 2.53 2.2 2.75 1.81 3.01 1.46 3.17 1.05 3.28 .62 3.32 .2 3.37 -.25 3.24 -.66 3.18 -1.1 3.67 -1.9 3.32 -2.44 2.87 -2.92 2.41 -3.37 1.84 -3.67 1.27 -3.95 .64 -4.13 -.01 -4.15 -.63 -4.13 -1.24 -3.96 -1.83 -3.75 -2.4 -3.5 -2.86 -3.07 -3.33 -2.68 -3.69 -2.17 -3.96 -1.63 -3.77 -.99 -3.93 -.52 -4.02 -.02 -3.98 .47 -3.93 .96 -3.78 1.41 -3.65 1.88 -3.43 2.31 -3.16 2.69 -2.85 3.04 -2.53 3.37 -2.15 3.63 -1.8 3.91 -1.39 4.1 -.98 4.25 -.55 4.38 -.11 5.13 .45 5.2 1.02 5.16 1.58 5.11 2.11 4.97 2.63 4.8 3.09 4.55 3.57 4.29 3.98 3.98 4.35 3.61 4.7 3.25 5.03 2.86 5.28 2.42 5.5 1.98 5.67 1.51 5.81 1.04 7.41 .62 7.46 -.15 7.4 -.92 7.29 -1.67 7.06 -2.42 6.74 -3.11 6.37 -3.79 5.92 -4.43 5.38 -4.99 4.8 -5.53 4.14 -5.95 3.47 -6.36 2.74 -6.68 1.97 -6.9 1.2 -7.07 .3 -3.57 .1 -3.6" stroke="#ff7f0e" stroke-width="0.8" stroke-opacity="0.7"/>
<path d="M242.48 149.00l-.25 -5.61 -.76 -5.56 -1.25 -5.49 -1.73 -5.36 -2.21 -5.21 -2.67 -5.02 -3.12 -4.78 -3.52 -4.52 -3.93 -4.23 -4.29 -3.9 -4.63 -3.55 -4.91 -3.16 -5.19 -2.76 -5.41 -2.33 -5.61 -1.9 -5.74 -1.43 -5.88 -.98 -5.92 -.49 -5.94 -.02 -5.92 .46 -5.85 .95 -5.71 1.41 -5.56 1.87 -5.32 2.32 -5.1 2.75 -4.8 3.16 -4.45 3.53 -4.07 3.88 -3.65 4.19 -3.2 4.46 -2.7 4.69 -2.21 4.87 -1.8 5.51 -1.14 5.58 -.46 5.62 .23 5.54 .93 5.4 1.6 5.15 2.26 4.85 2.84 4.39 3.48 3.98 3.96 3.37 2.16 1.44 2.25 1.27 2.32 1.08 2.39 .89 2.42 .69 2.49 .5 2.51 .29 2.49 .08 2.46 -.12 2.46 -.32 2.39 -.53 2.37 -.73 3.06 -1.3 2.91 -1.66 2.68 -2 2.4 -2.28 2.08 -2.53 1.77 -2.8 1.39 -2.96 1.01 -3.07 .61 -3.21 .2 -3.21 -.2 -3.23 -.63 -3.2 -1.02 -3.04 -1.41 -2.91 -1.79 -2.71 -2.1 -2.41 -2.35 -2.1 -2.56 -1.74 -2.78 -1.42 -2.94 -1.04 -3.06 -.66 -3.07 -.25 -3.08 .14 -3.05 .54 -2.96 .93 -2.81 1.31 -2.62 1.68 -2.34 1.96 -2.1 2.3 -1.75 2.5 -1.41 2.72 -1.04 2.88 -.66 3.06 -.25 3.06 .16 3.06 .57 3.03 .99 2.98 1.35 2.77 1.71 2.56 2.04 2.32 2.33 2.03 2.58 1.7 2.79 1.34 2.94 .96 3.05 .56 3.09 .14 3.09 -.27 3.02 -.67 2.91 -1.08 2.68 -1.42 2.52 -1.8 2.25 -2.12 1.92 -2.34 1.62 -2.64 1.25 -2.82 .86 -2.97 .45 -2.99 .05 -3.09 -.37 -3.06 -.76 -2.99 -1.16 -2.85 -1.53 -2.68 -1.87 -2.45 -2.18 -2.18 -2.39 -1.83 -2.67 -1.54 -2.84 -1.17 -2.97 -.79 -3.04 -.4 -3.07 .01 -3.03 .4 -3.01 .81 -2.82 1.18 -2.69 1.55 -2.41 1.85 -2.19 2.19 -1.88 2.44 -1.55 2.66 -1.19 2.83 -.83 3.01 -.46 3.64 .1 3.72 .66 3.64 1.2 3.49 1.7 3.25 2.19 3 2.64 2.67 2.99 2.24 3.32 1.78 3.52 1.28 3.69 .76 3.74 .23 3.75 -.3 3.7 -.83 3.56 -1.33 3.4 -1.85 2.87 -2.09 2.64 -2.48 2.28 -2.75 1.96 -3.05 1.58 -3.27 1.19 -3.49 .78 -3.59 .36 -3.69 -.05 -3.71 -.47 -3.75 -.88 -3.65 -1.28 -3.61 -1.67 -3.47 -2.03 -3.32 -2.4 -3.14 -2.72 -2.92 -3.3 -2.9 -3.63 -2.57 -3.94 -2.24 -4.17 -1.84 -4.39 -1.46 -4.56 -1.06 -4.67 -.64 -4.78 -.23 -4.81 .19 -4.83 .6 -4.83 1.02 -4.76 1.41 -4.69 1.81 -4.54 2.18 -4.42 2.56 -4.24 2.9 -3.94 3.14 -3.71 3.44 -3.47 3.71 -3.21 3.96 -2.93 4.18 -2.64 4.39 -2.32 4.58 -2 4.72 -1.66 4.84 -1.31 4.95 -.96 5.01 -.61 5.07 -.24 5.09 .12 5.06 .48 5.02 .84 4.96 1.2 4.86 1.54 4.73 1.88 4.58 2.2 4.41 2.52 4.23 2.83 4.01 3.12 3.77 3.38 3.51 3.64 3.23 3.88 2.95 4.08 2.64 4.28 2.3 4.45 1.98 4.6 1.63 4.7 1.27 4.82 .91 5.26 .57 5.32 .14 5.34 -.29 5.32 -.72 5.27 -1.15 5.17 -1.56 5.07 -1.97 4.92 -2.37 4.74 -2.76 4.53 -3.12 4.29 -3.46 4.02 -3.78 3.73 -4.08 3.41 -4.34 3.08 -4.61 2.71 -4.8 2.36 -5.05 1.96 -5.21 1.54 -5.3 1.12 -5.39 .68 -5.44 .24 -5.44 -.2 -5.37 -.65 -5.31 -1.09 -5.21 -1.52 -5.03 -1.93 -4.84 -2.34 -4.58 -2.72 -4.28 -3.08 -3.98 -3.41 -3.61 -3.7 -3.2 -4.35 -3.02 -4.6 -2.46 -4.82 -1.89 -4.92 -1.26 -4.96 -.63 -4.97 .01 -4.87 .66 -4.67 1.29 -4.47 1.94 -4.07 2.5 -3.62 3.04 -3.12 3.54 -2.53 3.96 -1.85 4.23 -1.16 4.44 -.43 4.52 .16 3.37 .57 3.35 .96 3.18 1.36 3.06 1.72 2.84 2.07 2.62 2.37 2.31 2.67 2 2.87 1.63 3.07 1.24 3.17 .82 3.27 .41 3.31 -.03 3.23 -.47 3.15 -.89 2.96 -1.27 2.67 -1.6 2.45 -1.92 2.18 -2.24 1.85 -2.45 1.55 -2.74 1.15 -2.85 .78 -3 .37 -3.07 -.02 -3.1 -.44 -3.08 -.85 -2.99 -1.21 -2.81 -1.6 -2.68 -1.91 -2.4 -2.2 -2.13 -2.48 -1.82 -2.75 -1.52 -2.87 -1.11 -3 -.72 -3.07 -.32 -3.15 .09 -3.05 .51 -2.95 .9 -2.81 1.3 -2.62 1.65 -2.36 1.99 -2.08 2.29 -1.76 2.54 -1.4 2.76 -1.02 2.92 -.61 3.03 -.21 3.08 .22 3.09 .62 3.02 1.03 2.92 1.4 2.75 1.77 2.54 2.08 2.28 2.38 1.99 2.67 1.67 2.82 1.28 2.96 .89 3.05 .49 3.15 .08 3.07 -.34 2.99 -.74 2.87 -1.13 2.74 -1.52 2.46 -1.84 2.2 -2.15 1.89 -2.41 1.59 -2.69 1.19 -2.81 .83 -3 .42 -3.08 .02 -3.1 -.4 -3.07 -.79 -2.98 -1.17 -2.86 -1.56 -2.72 -1.86 -2.45 -2.2 -2.22 -2.46 -1.91 -2.67 -1.58 -3.62 -1.48 -3.78 -.89 -3.92 -.28 -3.89 .34 -3.82 .95 -3.61 1.52 -3.36 2.07 -3.02 2.59 -2.61 3.03 -2.09 3.36 -1.58 3.65 -1.03 3.86 -.45 3.98 .13 4.07 .72 4.01 1.27 3.86 1.63 3.38 2.05 3.14 2.44 2.9 2.77 2.59 3.09 2.26 3.36 1.9 3.59 1.52 3.79 1.12 3.91 .7 3.98 .27 4.03 -.15 4.03 -.57 3.99 -.98 3.93 -1.39 3.8 -1.78 3.66 -2.16 3.99 -2.92 3.69 -3.33 3.39 -3.74 3.03 -4.1 2.66 -4.43 2.27 -4.72 1.84 -4.95 1.42 -5.16 .97 -5.31 .51 -5.41 .06 -5.49 -.4 -5.5 -.85 -5.5 -1.29 -5.44 -1.73 -5.35 -2.15 -5.21 -2.66 -5.23 -3.08 -5 -3.48 -4.76 -3.84 -4.45 -4.19 -4.13 -4.49 -3.76 -4.79 -3.4 -5.02 -2.97 -5.22 -2.55 -5.39 -2.1 -5.54 -1.63 -5.61 -1.16 -5.66 -.67 -5.68 -.19 -5.65 .31 -5.58 .79 -5.47 1.27 -5.31 1.74 -5.14 2.2 -4.91 2.64 -4.66 3.07 -4.38 3.48 -4.06 3.86 -3.71 4.2 -3.34 4.53 -2.94 4.82 -2.53 5.08 -2.09 5.29 -1.64 5.47 -1.18 5.63 -.72 5.72 -.24 5.81 .29 6.44 .87 6.4 1.44 6.31 2 6.16 2.54 5.98 3.06 5.72 3.55 5.42 4 5.06 4.43 4.68 4.81 4.22 5.16 3.75 5.42 3.21 5.66 2.66 5.83 2.07 5.93 1.47 5.97 .84 6.67 .19 3.28 -.2 3.22 -.4 3.19 -.59 3.1 -.79 3.04 -.98 2.95 -1.17 2.85 -1.36 2.69 -1.52 2.61 -1.72 2.42 -1.85 2.26 -2 2.12 -2.17 1.92 -2.3 1.73 -2.4 1.56 -2.56 1.36 -2.69 1.11 -2.75 .87 -2.78 .64 -2.84 .4 -2.88 .15 -2.89 -.1 -2.88 -.36 -2.85 -.59 -2.75 -.83 -2.66 -1.07 -2.61 -1.31 -2.48 -1.52 -2.33 -1.71 -2.15 -1.93 -2.01 -2.66 -2.23 -2.9 -1.87 -3.1 -1.5 -3.29 -1.12 -3.32 -.67 -3.41 -.25 -3.39 .18 -3.36 .62 -3.21 1.05 -3.07 1.46 -2.82 1.84 -2.52 2.17 -2.22 2.49 -1.88 2.78 -1.46 2.96 -1.06 3.15 -.6 3.09 -.19 3.09 .21 3.16 .62 3.06 1 2.96 1.4 2.81 1.75 2.61 2.04 2.31 2.34 2.04 2.58 1.72 2.8 1.36 2.95 .99 3.07 .59 3.12 .18 3.12 -.23 3.01 -.64 2.96 -1.05 2.79 -1.43 2.57 -1.8 2.27 -2.09 2.01 -2.42 1.66 -2.67 1.28 -2.87 .87 -2.96 .47 -3.12 .04 -3.08 -.38 -3.13 -.78 -2.99 -1.21 -2.91 -1.56 -2.67 -1.95 -2.49 -2.22 -2.16 -2.48 -1.84 -2.72 -1.49 -2.89 -1.11 -3.08 -.73 -3.08 -.31 -3.1 .12 -3.05 .52 -3.01 .95 -2.8 1.32 -2.65 1.72 -2.34 2.01 -2.09 2.36 -1.72 2.56 -1.38 2.82 -.97 2.92 -.59 3.09 -.16 3.06 .26 3.12 .65 3 1.07 2.94 1.41 2.71 1.8 2.55 2.12 2.29 2.39 1.99 2.64 1.65 2.82 1.29 2.96 .91 3.12 .52 3.08 .11 3.13 -.3 3.05 -.7 2.93 -1.08 3.38 -1.84 3.09 -2.39 2.65 -2.83 2.2 -3.24 1.65 -3.54 1.08 -3.78 .48 -3.93 -.14 -3.94 -.74 -3.9 -1.33 -3.71 -1.87 -3.48 -2.39 -3.19 -2.84 -2.81 -3.23 -2.38 -3.55 -1.89 -3.84 -1.39 -3.62 -.78 -3.74 -.32 -3.76 .14 -3.71 .6 -3.65 1.06 -3.53 1.49 -3.37 1.92 -3.14 2.3 -2.87 2.66 -2.58 2.97 -2.27 3.27 -1.93 3.54 -1.57 3.76 -1.19 3.93 -.8 4.06 -.4 4.18 .04 4.92 .57 4.97 1.11 4.95 1.63 4.86 2.14 4.76 2.61 4.56 3.07 4.36 3.5 4.1 3.88 3.79 4.27 3.49 4.56 3.12 4.87 2.75 5.13 2.37 5.32 1.94 5.5 1.51 5.63 1.08 7.48 .73 7.56 -.05 7.51 -.82 7.38 -1.58 7.17 -2.33 6.86 -3.04 6.49 -3.73 6.01 -4.35 5.48 -4.95 4.88 -5.46 2.21 -2.91 2.03 -3.02 1.86 -3.12 1.67 -3.2 1.49 -3.29 1.31 -3.36 1.1 -3.42 .91 -3.46 .71 -3.52 .51 -3.53 .31 -3.57 .1 -3.57" stroke="#2ca02c" stroke-width="0.9" stroke-opacity="0.9"/>
</g>
<path d="M31.70 261.30v-4.2M31.70 36.00v4.2M60.00 261.30v-4.2M60.00 36.00v4.2M88.30 261.30v-4.2M88.30 36.00v4.2M116.60 261.30v-4.2M116.60 36.00v4.2M144.90 261.30v-4.2M144.90 36.00v4.2M173.20 261.30v-4.2M173.20 36.00v4.2M201.50 261.30v-4.2M201.50 36.00v4.2M229.80 261.30v-4.2M229.80 36.00v4.2M258.10 261.30v-4.2M258.10 36.00v4.2M31.60 233.68h4.2M258.00 233.68h-4.2M31.60 205.45h4.2M258.00 205.45h-4.2M31.60 177.22h4.2M258.00 177.22h-4.2M31.60 149.00h4.2M258.00 149.00h-4.2M31.60 120.78h4.2M258.00 120.78h-4.2M31.60 92.55h4.2M258.00 92.55h-4.2M31.60 64.33h4.2M258.00 64.33h-4.2M31.60 36.10h4.2M258.00 36.10h-4.2" stroke="#000" stroke-width="0.85" fill="none"/>
<path d="M37.36 261.30v-2.3M37.36 36.00v2.3M43.02 261.30v-2.3M43.02 36.00v2.3M48.68 261.30v-2.3M48.68 36.00v2.3M54.34 261.30v-2.3M54.34 36.00v2.3M60.00 261.30v-2.3M60.00 36.00v2.3M65.66 261.30v-2.3M65.66 36.00v2.3M71.32 261.30v-2.3M71.32 36.00v2.3M76.98 261.30v-2.3M76.98 36.00v2.3M82.64 261.30v-2.3M82.64 36.00v2.3M88.30 261.30v-2.3M88.30 36.00v2.3M93.96 261.30v-2.3M93.96 36.00v2.3M99.62 261.30v-2.3M99.62 36.00v2.3M105.28 261.30v-2.3M105.28 36.00v2.3M110.94 261.30v-2.3M110.94 36.00v2.3M116.60 261.30v-2.3M116.60 36.00v2.3M122.26 261.30v-2.3M122.26 36.00v2.3M127.92 261.30v-2.3M127.92 36.00v2.3M133.58 261.30v-2.3M133.58 36.00v2.3M139.24 261.30v-2.3M139.24 36.00v2.3M144.90 261.30v-2.3M144.90 36.00v2.3M150.56 261.30v-2.3M150.56 36.00v2.3M156.22 261.30v-2.3M156.22 36.00v2.3M161.88 261.30v-2.3M161.88 36.00v2.3M167.54 261.30v-2.3M167.54 36.00v2.3M173.20 261.30v-2.3M173.20 36.00v2.3M178.86 261.30v-2.3M178.86 36.00v2.3M184.52 261.30v-2.3M184.52 36.00v2.3M190.18 261.30v-2.3M190.18 36.00v2.3M195.84 261.30v-2.3M195.84 36.00v2.3M201.50 261.30v-2.3M201.50 36.00v2.3M207.16 261.30v-2.3M207.16 36.00v2.3M212.82 261.30v-2.3M212.82 36.00v2.3M218.48 261.30v-2.3M218.48 36.00v2.3M224.14 261.30v-2.3M224.14 36.00v2.3M229.80 261.30v-2.3M229.80 36.00v2.3M235.46 261.30v-2.3M235.46 36.00v2.3M241.12 261.30v-2.3M241.12 36.00v2.3M246.78 261.30v-2.3M246.78 36.00v2.3M252.44 261.30v-2.3M252.44 36.00v2.3M31.60 256.25h2.3M258.00 256.25h-2.3M31.60 250.61h2.3M258.00 250.61h-2.3M31.60 244.96h2.3M258.00 244.96h-2.3M31.60 239.32h2.3M258.00 239.32h-2.3M31.60 233.68h2.3M258.00 233.68h-2.3M31.60 228.03h2.3M258.00 228.03h-2.3M31.60 222.38h2.3M258.00 222.38h-2.3M31.60 216.74h2.3M258.00 216.74h-2.3M31.60 211.09h2.3M258.00 211.09h-2.3M31.60 205.45h2.3M258.00 205.45h-2.3M31.60 199.81h2.3M258.00 199.81h-2.3M31.60 194.16h2.3M258.00 194.16h-2.3M31.60 188.51h2.3M258.00 188.51h-2.3M31.60 182.87h2.3M258.00 182.87h-2.3M31.60 177.22h2.3M258.00 177.22h-2.3M31.60 171.58h2.3M258.00 171.58h-2.3M31.60 165.94h2.3M258.00 165.94h-2.3M31.60 160.29h2.3M258.00 160.29h-2.3M31.60 154.65h2.3M258.00 154.65h-2.3M31.60 149.00h2.3M258.00 149.00h-2.3M31.60 143.35h2.3M258.00 143.35h-2.3M31.60 137.71h2.3M258.00 137.71h-2.3M31.60 132.06h2.3M258.00 132.06h-2.3M31.60 126.42h2.3M258.00 126.42h-2.3M31.60 120.78h2.3M258.00 120.78h-2.3M31.60 115.13h2.3M258.00 115.13h-2.3M31.60 109.48h2.3M258.00 109.48h-2.3M31.60 103.84h2.3M258.00 103.84h-2.3M31.60 98.20h2.3M258.00 98.20h-2.3M31.60 92.55h2.3M258.00 92.55h-2.3M31.60 86.91h2.3M258.00 86.91h-2.3M31.60 81.26h2.3M258.00 81.26h-2.3M31.60 75.62h2.3M258.00 75.62h-2.3M31.60 69.97h2.3M258.00 69.97h-2.3M31.60 64.33h2.3M258.00 64.33h-2.3M31.60 58.68h2.3M258.00 58.68h-2.3M31.60 53.04h2.3M258.00 53.04h-2.3M31.60 47.39h2.3M258.00 47.39h-2.3M31.60 41.75h2.3M258.00 41.75h-2.3" stroke="#000" stroke-width="0.68" fill="none"/>
<rect x="31.60" y="36.00" width="226.40" height="225.30" fill="none" stroke="#000" stroke-width="0.65"/>
<rect x="202.6" y="40.2" width="51.5" height="41.8" rx="1.5" fill="#fff" fill-opacity="0.8" stroke="#ccc" stroke-width="0.7"/>
<path d="M205.5 46.5H220.3" stroke="#e41a1c" stroke-width="0.9" stroke-opacity="1" stroke-dasharray="2.4 1.1"/>
<path d="M205.5 56.6H220.3" stroke="#1f77b4" stroke-width="0.9" stroke-opacity="1"/>
<path d="M205.5 66.5H220.3" stroke="#ff7f0e" stroke-width="0.9" stroke-opacity="0.55"/>
<path d="M205.5 76.5H220.3" stroke="#2ca02c" stroke-width="1.4" stroke-opacity="0.45"/>
<clipPath id="ctop"><rect x="323.5" y="11.0" width="359.5" height="119.44999999999999"/></clipPath>
<g clip-path="url(#ctop)" fill="none">
<path d="M323.5 70.68H683.0" stroke="#000" stroke-width="0.7" stroke-dasharray="2.1 0.8"/>
<path d="M340.00 71.64l3.62 -5.34 2.63 -3.51 2.5 -2.81 2.36 -2.1 2.37 -1.45 2.24 -.68 2.07 .11 1.9 .89 1.28 1.15 1.19 1.58 1.12 2.02 1.06 2.48 1.98 6.33 3.6 14.95 1.77 6.29 .91 2.57 .78 1.6 .69 .71 .32 .03 .31 -.19 .64 -1.15 .59 -2.2 1.03 -7.32 .61 -7.91 1.21 -22.01 .91 -13.23 .76 -8.38 .31 -1.82 .29 -.41 .3 1.12 .3 2.82 .64 11.26 1.53 53.15 .51 11.82 .22 2.64 .21 .74 .38 -3.64 .4 -10.56 1.3 -62.27 .41 -12.72 .36 -3.77 .3 3.31 .32 9.5 1.23 66.99 .38 13.5 .33 4.03 .35 -4.92 .39 -15.01 1.15 -66.99 .29 -9.07 .27 -2.75 .33 4.75 .38 14.69 1.15 67.86 .28 9.22 .28 2.8 .33 -4.8 .37 -14.58 1.14 -67.51 .29 -9.4 .28 -2.95 .33 4.59 .38 14.11 1.17 67.05 .3 9.52 .29 3.09 .34 -4.32 .4 -13.78 1.22 -65.02 .34 -9.89 .32 -3.39 .37 3.73 .43 12.31 1.36 59.94 .46 10.99 .22 2.66 .22 .93 .23 -.83 .24 -2.62 .59 -11.53 1.69 -48.84 .76 -10.48 .37 -2.69 .37 -1.12 .17 -.01 .18 .28 .37 1.41 .92 6.73 1.17 11.32 1.72 20.39 .99 8.08 .74 3.8 .84 2.73 .94 1.66 .51 .43 .53 .16 .85 -.24 .94 -.83 1.05 -1.44 1.16 -2.04 2.15 -4.7 5.41 -13.39 1.74 -3.55 1.71 -2.85 2.03 -2.57 2.14 -1.88 2.28 -1.21 2.39 -.51 2.3 .14 2.35 .74 2.34 1.34 2.32 1.91 2.37 2.58 2.41 3.26 2.34 3.67 5.95 10.03 1.84 2.73 1.67 2.14 1.98 1.96 1.78 1.1 .82 .22 .78 .01 .73 -.2 .7 -.42 1.1 -1.22 1 -1.84 .9 -2.48 .84 -3.18 1.29 -7.06 2.35 -17.05 1.35 -8.35 1.24 -5.87 .49 -1.3 .45 -.36 .51 .85 .49 2.32 .94 9.07 .51 9.09 1.55 36.75 .67 10.38 .28 2.36 .25 .7 .26 -.96 .25 -2.76 .56 -11.51 1.4 -56.24 .46 -12.15 .39 -3.76 .35 3.35 .37 10.09 1.26 64.24 .41 13.36 .35 4.09 .29 -3.19 .31 -9.47 1.2 -67.16 .37 -13.69 .33 -4.32 .28 3.05 .29 9.24 1.16 68.18 .38 14.22 .33 4.4 .32 -4.55 .38 -14.4 1.15 -68.27 .29 -9.19 .26 -2.94 .27 2.98 .28 9.02 1.15 67.18 .38 14.9 .34 4.94 .34 -4.06 .37 -13.65 1.22 -67.87 .3 -9.37 .29 -3.06 .35 4.05 .4 13.2 1.26 63.83 .36 10.18 .35 3.5 .19 -.78 .2 -2.75 .47 -12.19 1.43 -57.22 .55 -11.29 .25 -2.67 .26 -.91 .25 .74 .26 2.3 .65 10.04 2.09 46.31 .88 8.75 .46 2.44 .49 1.11 .22 .09 .23 -.17 .5 -1.09 1.24 -5.47 1.36 -8.23 2.41 -17.12 1.3 -6.98 .81 -3.02 .89 -2.36 .97 -1.76 1.06 -1.15 .69 -.4 .72 -.19 .76 .03 .8 .24 1.74 1.13 1.92 1.99 1.61 2.15 1.77 2.74 5.8 10.2 2.33 3.8 2.45 3.41 2.4 2.7 2.42 2.05 2.46 1.43 2.46 .79 2.44 .14 2.46 -.57 2.34 -1.27 2.2 -1.98 2.05 -2.7 1.73 -2.98 1.73 -3.69 5.34 -13.89 2.14 -4.88 1.16 -2.14 1.05 -1.5 .95 -.88 .86 -.26 .52 .16 .5 .43 .93 1.65 .83 2.73 .74 3.79 .98 8.12 1.67 19.72 1.03 10.08 .95 7.16 .38 1.62 .35 .49 .39 -.87 .38 -2.51 .77 -10.21 1.76 -50.17 .56 -10.93 .23 -2.52 .23 -.83 .22 .91 .21 2.63 .47 10.92 1.35 59.79 .44 12.83 .37 3.93 .32 -3.27 .35 -9.9 1.23 -65.34 .39 -13.39 .34 -4.21 .28 3.12 .31 9.4 1.18 67.6 .37 13.97 .33 4.42 .28 -3.03 .28 -9.3 1.16 -68.18 .37 -14.19 .33 -4.51 .27 2.97 .28 9.21 1.14 67.53 .38 14.75 .33 4.85 .27 -2.76 .29 -9.07 1.16 -67.2 .39 -14.88 .34 -4.93 .34 4.01 .38 13.32 1.22 66.89 .32 9.6 .3 3.27 .36 -3.81 .42 -12.88 1.31 -62.79 .4 -10.32 .37 -3.57 .21 .71 .22 2.61 .49 11.41 1.54 53.46 .64 11.08 .3 2.82 .3 1.12 .15 -.03 .15 -.39 .31 -1.88 .79 -8.73 .84 -12.12 1.18 -21.83 .64 -8.15 1.05 -7.38 .59 -2.17 .64 -1.11 .31 -.16 .32 .06 .7 .79 .79 1.72 .93 2.72 1.78 6.55 3.55 15.28 1.93 6.43 1.05 2.57 1.11 2.09 1.19 1.66 1.27 1.23 1.92 1.03 1.02 .22 1.07 .02 2.27 -.56 2.42 -1.35 2.45 -2.04 2.56 -2.75 2.68 -3.47 3.4 -4.94" stroke="#e41a1c" stroke-width="0.8" stroke-opacity="1" stroke-dasharray="2.2 1.0"/>
<path d="M340.00 71.66l3.69 -5.32 2.67 -3.49 2.54 -2.8 2.4 -2.08 2.4 -1.45 2.25 -.66 2.09 .12 1.9 .9 1.29 1.16 1.2 1.58 1.13 2.03 1.06 2.51 1.98 6.35 3.58 14.92 1.75 6.28 .9 2.55 .77 1.59 .67 .7 .31 .03 .3 -.18 .63 -1.16 .59 -2.2 1.01 -7.37 .61 -7.95 1.19 -22.21 .91 -13.52 .73 -8.27 .3 -1.78 .28 -.41 .29 1.13 .3 2.83 .62 11.41 1.51 53.94 .49 11.63 .21 2.64 .2 .72 .37 -3.61 .39 -10.62 1.29 -63.12 .39 -12.63 .35 -3.76 .29 3.3 .32 9.63 1.19 67.57 .38 13.57 .32 4.07 .34 -4.86 .38 -14.88 1.13 -68 .28 -9.03 .27 -2.77 .32 4.77 .36 14.56 1.13 68.72 .28 9.21 .27 2.86 .32 -4.77 .36 -14.42 1.13 -68.53 .28 -9.43 .27 -2.89 .32 4.62 .37 14.16 1.14 67.74 .3 9.6 .28 3.04 .34 -4.34 .38 -13.7 1.2 -65.88 .33 -9.9 .31 -3.39 .36 3.64 .42 12.34 1.34 60.76 .45 11.06 .21 2.63 .22 .9 .22 -.84 .23 -2.61 .57 -11.5 1.66 -49.46 .75 -10.57 .36 -2.72 .37 -1.11 .16 -.01 .17 .27 .36 1.41 .89 6.66 1.17 11.54 1.69 20.44 .98 8.14 .73 3.82 .83 2.75 .93 1.67 .5 .43 .53 .17 .84 -.24 .93 -.82 1.04 -1.41 1.14 -2.02 2.15 -4.66 5.43 -13.34 1.76 -3.56 1.73 -2.86 2.05 -2.58 2.17 -1.88 2.31 -1.22 2.43 -.52 2.35 .14 2.39 .75 2.39 1.33 2.37 1.93 2.4 2.57 2.46 3.26 2.38 3.66 6.01 9.96 1.85 2.7 1.68 2.12 1.97 1.93 1.78 1.08 .81 .22 .77 0 .74 -.2 .69 -.42 1.1 -1.22 1 -1.86 .9 -2.49 .83 -3.2 1.28 -7.09 2.33 -17.06 1.35 -8.49 1.21 -5.82 .48 -1.29 .43 -.35 .5 .85 .48 2.35 .93 9.2 .5 9.08 1.53 37.24 .64 10.33 .27 2.35 .25 .73 .25 -.96 .25 -2.78 .54 -11.57 1.38 -57.03 .45 -12.09 .38 -3.71 .34 3.35 .35 10.11 1.25 65.27 .39 13.14 .34 4.08 .28 -3.17 .3 -9.56 1.18 -67.89 .36 -13.71 .33 -4.3 .26 3.02 .29 9.31 1.15 69.22 .36 14.03 .32 4.31 .32 -4.61 .36 -14.49 1.13 -68.79 .28 -9.29 .26 -2.96 .26 3.03 .28 9.18 1.12 67.86 .38 14.9 .32 4.83 .33 -4.12 .37 -13.58 1.19 -68.6 .3 -9.39 .28 -3.12 .34 4.05 .38 13.1 1.24 64.7 .36 10.21 .33 3.5 .19 -.79 .2 -2.76 .44 -12.08 1.42 -57.94 .53 -11.44 .25 -2.68 .25 -.91 .24 .75 .26 2.3 .62 9.96 2.06 46.78 .86 8.87 .46 2.47 .48 1.12 .21 .08 .23 -.17 .48 -1.08 1.22 -5.44 1.35 -8.32 2.38 -17.15 1.3 -7.02 .81 -3.05 .87 -2.37 .97 -1.77 1.07 -1.15 .67 -.4 .72 -.18 .76 .02 .8 .23 1.73 1.11 1.92 1.97 1.62 2.13 1.77 2.7 5.86 10.14 2.37 3.8 2.48 3.41 2.44 2.7 2.48 2.06 2.5 1.43 2.52 .79 2.48 .14 2.51 -.57 2.38 -1.29 2.21 -1.98 2.09 -2.71 1.73 -2.98 1.75 -3.71 5.37 -13.86 2.13 -4.84 1.15 -2.12 1.04 -1.48 .94 -.86 .84 -.25 .52 .16 .5 .43 .92 1.66 .82 2.75 .72 3.8 .98 8.17 1.64 19.82 1.02 10.26 .93 7.13 .36 1.6 .34 .5 .39 -.88 .37 -2.52 .76 -10.34 1.73 -50.84 .54 -10.83 .23 -2.5 .21 -.79 .22 .91 .21 2.64 .45 11.03 1.33 60.65 .42 12.67 .36 3.93 .32 -3.27 .33 -9.91 1.21 -66.06 .38 -13.45 .33 -4.22 .28 3.07 .3 9.47 1.16 68.47 .36 13.86 .32 4.44 .27 -3.04 .28 -9.27 1.14 -69.03 .36 -14.2 .32 -4.46 .26 3.02 .28 9.21 1.12 68.37 .36 14.63 .32 4.87 .27 -2.78 .28 -9.04 1.14 -68.04 .37 -14.9 .34 -4.88 .33 4.04 .37 13.39 1.2 67.61 .31 9.58 .29 3.27 .35 -3.8 .4 -12.81 1.29 -63.54 .39 -10.49 .37 -3.55 .2 .73 .21 2.58 .48 11.4 1.51 54.04 .62 11.23 .3 2.81 .29 1.14 .29 -.42 .31 -1.86 .76 -8.64 .83 -12.46 1.17 -21.95 .62 -8.17 1.03 -7.47 .6 -2.2 .62 -1.11 .3 -.16 .32 .06 .68 .79 .78 1.7 .91 2.69 1.77 6.57 3.53 15.24 1.93 6.46 1.05 2.58 1.11 2.11 1.2 1.67 1.28 1.25 1.93 1.04 1.04 .22 1.07 .02 2.29 -.54 2.45 -1.34 2.48 -2.02 2.6 -2.74 2.73 -3.45 3.45 -4.91" stroke="#1f77b4" stroke-width="0.8" stroke-opacity="0.8"/>
<path d="M340.00 71.73l3.93 -5.26 2.82 -3.43 2.66 -2.74 2.51 -2.05 2.49 -1.4 2.31 -.63 2.13 .14 1.93 .91 1.32 1.19 1.22 1.62 1.14 2.08 1.07 2.57 1.96 6.41 3.52 14.89 1.72 6.31 .84 2.45 .71 1.54 .63 .67 .29 .04 .28 -.17 .6 -1.18 .56 -2.26 .97 -7.63 .56 -8.04 1.11 -22.48 .9 -14.6 .65 -8.06 .27 -1.75 .25 -.42 .28 1.17 .27 2.92 .58 11.86 1.43 56.25 .43 11.41 .19 2.58 .19 .75 .33 -3.65 .36 -10.5 1.21 -65.94 .36 -12.52 .32 -3.82 .27 3.33 .28 9.8 1.13 70.33 .33 13.34 .3 4.09 .31 -4.76 .34 -14.57 1.07 -70.79 .26 -9.3 .24 -2.82 .3 4.78 .33 14.61 1.06 71.15 .25 9.35 .25 2.93 .29 -4.64 .32 -14.2 1.06 -71.32 .27 -9.6 .25 -2.99 .29 4.7 .33 14.08 1.08 70.37 .27 9.62 .26 3.1 .3 -4.31 .34 -13.29 1.14 -68.95 .3 -10 .29 -3.42 .33 3.65 .37 12.25 1.27 63.39 .41 11.12 .39 3.56 .41 -3.4 .5 -11.17 1.58 -51.64 .7 -11.08 .34 -2.8 .35 -1.16 .3 .28 .32 1.36 .8 6.4 1.16 12.43 1.6 20.67 .91 8.19 .7 3.92 .81 2.82 .9 1.7 .49 .44 .52 .16 .79 -.22 .88 -.77 .99 -1.34 1.1 -1.92 2.11 -4.51 5.51 -13.25 1.81 -3.59 1.79 -2.88 2.14 -2.61 2.26 -1.91 2.42 -1.23 2.55 -.55 2.51 .13 2.55 .75 2.55 1.35 2.53 1.95 2.55 2.58 2.61 3.27 2.5 3.64 6.22 9.72 1.86 2.59 1.7 2.03 1.96 1.84 1.75 1.02 1.56 .2 .71 -.2 .67 -.4 1.11 -1.24 .99 -1.88 .9 -2.55 .82 -3.29 1.23 -7.16 2.25 -17.23 1.35 -8.97 1.1 -5.58 .43 -1.25 .4 -.34 .47 .88 .45 2.41 .88 9.58 1.93 48.41 .57 9.98 .24 2.29 .22 .7 .23 -.96 .23 -2.83 .5 -11.8 1.31 -59.53 .4 -11.92 .34 -3.66 .31 3.35 .33 10.27 1.18 68.05 .34 12.96 .31 4.08 .26 -3.12 .28 -9.69 1.11 -70.59 .33 -13.7 .29 -4.23 .25 3.15 .26 9.5 1.08 71.92 .32 13.71 .3 4.32 .29 -4.56 .32 -14.15 1.07 -71.59 .25 -9.46 .24 -3.09 .24 2.97 .26 9.32 1.06 70.96 .34 14.45 .29 4.82 .3 -4.05 .33 -13.41 1.12 -71.38 .28 -9.55 .26 -3.16 .31 4.13 .34 13.13 1.17 67.23 .33 10.25 .3 3.51 .35 -3.51 .4 -11.81 1.33 -60.61 .49 -11.69 .23 -2.76 .23 -.94 .22 .7 .23 2.23 .56 9.68 1.95 48.65 .82 9.25 .43 2.54 .45 1.12 .2 .07 .2 -.16 .44 -1.05 1.11 -5.28 1.35 -8.76 2.29 -17.28 1.25 -7.08 .8 -3.13 .87 -2.44 .96 -1.8 1.07 -1.16 .65 -.39 .7 -.18 1.52 .24 1.71 1.05 1.9 1.88 3.41 4.64 6.04 9.9 2.48 3.79 2.64 3.44 2.59 2.72 2.64 2.09 2.68 1.45 2.7 .8 2.65 .12 2.64 -.58 2.49 -1.31 2.31 -2.02 2.17 -2.74 1.79 -3.02 1.8 -3.75 5.44 -13.8 2.1 -4.71 1.1 -2.02 1 -1.41 .88 -.82 .8 -.24 .51 .17 .48 .44 .89 1.7 .8 2.79 .69 3.92 .91 8.2 1.56 20.12 1.04 11.19 .83 6.89 .33 1.56 .3 .48 .36 -.92 .35 -2.64 .71 -10.86 1.62 -52.53 .49 -10.7 .4 -3.27 .39 3.59 .41 11.18 1.27 63.48 .37 12.45 .33 3.89 .28 -3.22 .31 -9.96 1.15 -68.93 .34 -13.33 .3 -4.17 .25 3.13 .27 9.63 1.1 71.36 .33 13.62 .29 4.29 .24 -3.06 .26 -9.36 1.07 -71.67 .33 -14.19 .29 -4.42 .24 3.11 .25 9.33 1.06 71.32 .33 14.37 .29 4.67 .25 -2.83 .25 -9.15 1.07 -70.67 .34 -14.82 .31 -4.89 .3 4.06 .34 13.46 1.12 70.03 .29 9.68 .26 3.36 .32 -3.78 .36 -12.52 1.22 -66.47 .36 -10.53 .33 -3.65 .18 .7 .19 2.55 .44 11.22 1.42 56.17 .58 11.67 .27 2.89 .28 1.16 .25 -.41 .28 -1.81 .68 -8.41 .83 -13.6 1.09 -22.43 .58 -8.21 .99 -7.72 .56 -2.25 .61 -1.13 .28 -.15 .29 .06 .63 .76 .73 1.65 .85 2.62 1.74 6.6 3.46 15.19 1.91 6.53 1.07 2.65 1.13 2.17 1.21 1.71 1.31 1.28 1.95 1.05 1.05 .24 1.11 .04 2.35 -.51 2.55 -1.29 2.6 -1.98 2.73 -2.68 2.89 -3.39 3.65 -4.82" stroke="#ff7f0e" stroke-width="0.85" stroke-opacity="0.9"/>
<path d="M340.00 71.82l4.32 -5.17 3.06 -3.34 2.86 -2.68 2.67 -1.98 2.61 -1.34 2.41 -.58 2.18 .18 1.96 .93 1.35 1.23 1.25 1.69 1.15 2.15 1.09 2.69 1.92 6.54 3.4 14.86 1.66 6.39 1.37 3.75 .55 .64 .5 -.12 .56 -1.18 .53 -2.36 .91 -8.07 2.34 -47.43 .55 -7.73 .23 -1.74 .21 -.42 .25 1.19 .24 3.03 .52 12.48 1.3 60.03 .36 11.15 .32 3.31 .29 -3.69 .31 -10.58 1.1 -70.05 .31 -12.58 .27 -3.84 .24 3.45 .25 10.05 1.02 74.51 .28 13.25 .26 4.08 .26 -4.75 .29 -14.13 .97 -75.32 .23 -9.54 .21 -2.9 .26 4.93 .28 14.61 .95 75.02 .23 9.72 .21 2.95 .26 -4.71 .27 -13.9 .96 -75.64 .23 -9.86 .22 -3.05 .25 4.64 .29 14.12 .97 74.51 .24 9.88 .23 3.12 .25 -4.27 .29 -13.22 1.03 -73.1 .27 -10.32 .25 -3.54 .29 3.76 .31 12.15 1.16 67.57 .35 11.17 .34 3.58 .35 -3.31 .41 -10.68 1.44 -55.19 .63 -11.88 .31 -2.97 .31 -1.19 .26 .26 .27 1.29 .66 5.99 1.15 13.97 1.45 20.94 .83 8.34 .65 4.06 .76 2.92 .86 1.77 .47 .45 .5 .17 .71 -.2 .8 -.7 1.92 -2.97 2.04 -4.29 5.6 -13.17 1.89 -3.65 1.88 -2.94 2.25 -2.66 2.4 -1.95 2.59 -1.26 2.76 -.57 2.76 .11 2.82 .75 2.82 1.38 2.81 1.99 2.78 2.61 2.85 3.3 2.71 3.62 6.51 9.37 3.57 4.31 1.92 1.7 1.7 .93 1.49 .17 1.32 -.59 1.1 -1.25 .98 -1.92 .87 -2.64 .8 -3.43 1.17 -7.33 2.1 -17.46 1.37 -9.89 .92 -5.14 .37 -1.15 .34 -.32 .43 .94 .41 2.55 .8 10.25 1.77 51.6 .47 9.5 .39 2.89 .4 -3.92 .43 -12 1.2 -63.48 .33 -11.74 .3 -3.7 .27 3.45 .29 10.54 1.07 72.31 .29 12.79 .26 4.11 .23 -3.2 .24 -9.87 1 -74.43 .28 -13.88 .26 -4.35 .22 3.27 .23 9.78 .97 75.94 .28 13.73 .25 4.31 .25 -4.51 .28 -13.96 .96 -75.92 .22 -9.69 .22 -3.18 .25 4.54 .28 14.27 .97 75.27 .22 9.59 .22 3.25 .25 -4.14 .28 -13.37 1.01 -75.36 .24 -9.89 .23 -3.24 .27 4.16 .3 13.14 1.06 71.47 .27 10.31 .27 3.53 .3 -3.54 .33 -11.67 1.22 -64.71 .43 -11.97 .2 -2.88 .2 -.96 .39 2.89 .47 9.41 1.76 51.25 .76 9.94 .39 2.66 .42 1.16 .16 .06 .18 -.17 .37 -.99 .94 -4.92 1.35 -9.6 2.14 -17.52 1.18 -7.23 .77 -3.28 .85 -2.53 .95 -1.85 1.06 -1.19 1.29 -.55 1.45 .21 1.65 .96 1.86 1.74 3.39 4.34 6.29 9.59 2.68 3.79 2.87 3.48 2.83 2.75 2.93 2.15 2.98 1.49 2.99 .81 2.92 .11 2.85 -.62 2.67 -1.35 2.45 -2.06 2.29 -2.81 1.87 -3.08 1.88 -3.82 5.52 -13.76 2.03 -4.51 1.93 -3.17 .81 -.74 .72 -.22 .49 .17 .46 .45 .85 1.76 .74 2.91 .65 4.05 .82 8.3 1.42 20.62 1.07 12.96 .67 6.33 .28 1.46 .26 .44 .32 -.95 .31 -2.8 .65 -11.68 1.46 -55.44 .4 -10.4 .35 -3.25 .34 3.69 .36 11.42 1.15 67.97 .32 12.12 .28 3.85 .25 -3.29 .26 -10.12 1.03 -72.85 .3 -13.51 .26 -4.22 .23 3.24 .23 9.98 .99 75.24 .28 13.59 .25 4.42 .21 -3.13 .23 -9.59 .96 -75.41 .28 -14.38 .26 -4.59 .21 3.16 .22 9.69 .96 75.63 .28 14.05 .25 4.67 .21 -2.9 .23 -9.39 .96 -74.78 .3 -14.81 .26 -4.91 .26 4.16 .29 13.46 1.02 74.12 .24 9.86 .24 3.39 .27 -3.81 .3 -12.44 1.11 -70.75 .31 -10.74 .3 -3.71 .32 3.28 .36 11.08 1.29 59.42 .51 12.31 .25 3.03 .24 1.19 .22 -.43 .23 -1.75 .56 -7.99 2.31 -46.95 .92 -8.16 .53 -2.37 .56 -1.15 .5 -.07 .56 .71 1.4 4 1.68 6.72 3.35 15.2 1.88 6.64 1.07 2.77 1.14 2.25 1.23 1.78 1.35 1.33 1.98 1.08 2.22 .32 2.45 -.46 2.68 -1.22 2.77 -1.9 2.96 -2.61 3.14 -3.31 3.96 -4.68" stroke="#2ca02c" stroke-width="0.8" stroke-opacity="0.8"/>
</g>
<path d="M340.00 130.45v-3.4M340.00 11.00v3.4M399.30 130.45v-3.4M399.30 11.00v3.4M458.60 130.45v-3.4M458.60 11.00v3.4M517.90 130.45v-3.4M517.90 11.00v3.4M577.20 130.45v-3.4M577.20 11.00v3.4M636.50 130.45v-3.4M636.50 11.00v3.4M323.50 116.30h3.4M683.00 116.30h-3.4M323.50 101.09h3.4M683.00 101.09h-3.4M323.50 85.89h3.4M683.00 85.89h-3.4M323.50 70.68h3.4M683.00 70.68h-3.4M323.50 55.48h3.4M683.00 55.48h-3.4M323.50 40.27h3.4M683.00 40.27h-3.4M323.50 25.07h3.4M683.00 25.07h-3.4" stroke="#000" stroke-width="0.8" fill="none"/>
<path d="M325.18 130.45v-1.9M325.18 11.00v1.9M340.00 130.45v-1.9M340.00 11.00v1.9M354.82 130.45v-1.9M354.82 11.00v1.9M369.65 130.45v-1.9M369.65 11.00v1.9M384.48 130.45v-1.9M384.48 11.00v1.9M399.30 130.45v-1.9M399.30 11.00v1.9M414.12 130.45v-1.9M414.12 11.00v1.9M428.95 130.45v-1.9M428.95 11.00v1.9M443.77 130.45v-1.9M443.77 11.00v1.9M458.60 130.45v-1.9M458.60 11.00v1.9M473.42 130.45v-1.9M473.42 11.00v1.9M488.25 130.45v-1.9M488.25 11.00v1.9M503.07 130.45v-1.9M503.07 11.00v1.9M517.90 130.45v-1.9M517.90 11.00v1.9M532.73 130.45v-1.9M532.73 11.00v1.9M547.55 130.45v-1.9M547.55 11.00v1.9M562.38 130.45v-1.9M562.38 11.00v1.9M577.20 130.45v-1.9M577.20 11.00v1.9M592.02 130.45v-1.9M592.02 11.00v1.9M606.85 130.45v-1.9M606.85 11.00v1.9M621.67 130.45v-1.9M621.67 11.00v1.9M636.50 130.45v-1.9M636.50 11.00v1.9M651.33 130.45v-1.9M651.33 11.00v1.9M666.15 130.45v-1.9M666.15 11.00v1.9M680.97 130.45v-1.9M680.97 11.00v1.9M323.50 128.46h1.9M683.00 128.46h-1.9M323.50 125.42h1.9M683.00 125.42h-1.9M323.50 122.38h1.9M683.00 122.38h-1.9M323.50 119.34h1.9M683.00 119.34h-1.9M323.50 116.30h1.9M683.00 116.30h-1.9M323.50 113.25h1.9M683.00 113.25h-1.9M323.50 110.21h1.9M683.00 110.21h-1.9M323.50 107.17h1.9M683.00 107.17h-1.9M323.50 104.13h1.9M683.00 104.13h-1.9M323.50 101.09h1.9M683.00 101.09h-1.9M323.50 98.05h1.9M683.00 98.05h-1.9M323.50 95.01h1.9M683.00 95.01h-1.9M323.50 91.97h1.9M683.00 91.97h-1.9M323.50 88.93h1.9M683.00 88.93h-1.9M323.50 85.89h1.9M683.00 85.89h-1.9M323.50 82.84h1.9M683.00 82.84h-1.9M323.50 79.80h1.9M683.00 79.80h-1.9M323.50 76.76h1.9M683.00 76.76h-1.9M323.50 73.72h1.9M683.00 73.72h-1.9M323.50 70.68h1.9M683.00 70.68h-1.9M323.50 67.64h1.9M683.00 67.64h-1.9M323.50 64.60h1.9M683.00 64.60h-1.9M323.50 61.56h1.9M683.00 61.56h-1.9M323.50 58.52h1.9M683.00 58.52h-1.9M323.50 55.48h1.9M683.00 55.48h-1.9M323.50 52.43h1.9M683.00 52.43h-1.9M323.50 49.39h1.9M683.00 49.39h-1.9M323.50 46.35h1.9M683.00 46.35h-1.9M323.50 43.31h1.9M683.00 43.31h-1.9M323.50 40.27h1.9M683.00 40.27h-1.9M323.50 37.23h1.9M683.00 37.23h-1.9M323.50 34.19h1.9M683.00 34.19h-1.9M323.50 31.15h1.9M683.00 31.15h-1.9M323.50 28.11h1.9M683.00 28.11h-1.9M323.50 25.07h1.9M683.00 25.07h-1.9M323.50 22.02h1.9M683.00 22.02h-1.9M323.50 18.98h1.9M683.00 18.98h-1.9M323.50 15.94h1.9M683.00 15.94h-1.9M323.50 12.90h1.9M683.00 12.90h-1.9" stroke="#000" stroke-width="0.64" fill="none"/>
<rect x="323.50" y="11.00" width="359.50" height="119.45" fill="none" stroke="#000" stroke-width="0.55"/>
<rect x="641" y="13.3" width="40" height="33.900000000000006" rx="1.2" fill="#fff" fill-opacity="0.8" stroke="#ccc" stroke-width="0.6"/>
<path d="M643 18.5H654.3" stroke="#e41a1c" stroke-width="0.8" stroke-opacity="1" stroke-dasharray="2 0.9"/>
<path d="M643 26.4H654.3" stroke="#1f77b4" stroke-width="0.8" stroke-opacity="0.8"/>
<path d="M643 34.3H654.3" stroke="#ff7f0e" stroke-width="0.85" stroke-opacity="0.9"/>
<path d="M643 42.4H654.3" stroke="#2ca02c" stroke-width="0.8" stroke-opacity="0.8"/>
<clipPath id="cbot"><rect x="322.4" y="163.5" width="360.30000000000007" height="118.89999999999998"/></clipPath>
<g clip-path="url(#cbot)" fill="none">
<path d="M322.4 223.23H682.7" stroke="#000" stroke-width="0.7" stroke-dasharray="2.1 0.8"/>
<path d="M339.05 237.37l2.51 -.35 2.47 -1.04 2.39 -1.71 2.3 -2.38 2.11 -2.86 2.14 -3.6 6.78 -13.84 2.67 -4.71 1.47 -1.99 1.32 -1.26 1.2 -.56 1.09 .15 1.05 .94 .96 1.76 .86 2.59 .77 3.43 1.17 7.91 2.08 19.37 1.19 9.36 1.09 6.15 .44 1.18 .2 .17 .2 -.11 .42 -1.22 .4 -2.6 .78 -9.23 1.83 -47.47 .65 -11.49 .26 -2.52 .25 -.73 .24 1.04 .23 2.75 .51 11.4 1.32 57.03 .48 13.47 .2 3.01 .2 .84 .34 -3.63 .36 -10.45 1.19 -62.93 .41 -14.49 .36 -4.37 .37 5.13 .43 16 1.13 65.39 .29 9.14 .28 2.75 .35 -5.26 .41 -16.09 1.08 -65.36 .3 -9.55 .27 -3.1 .34 4.8 .4 15.65 1.11 66.54 .29 9.51 .27 3.06 .34 -4.7 .4 -15.44 1.12 -66.25 .3 -9.63 .28 -3.14 .35 4.67 .41 15.12 1.14 64.7 .32 10.03 .31 3.3 .37 -4.38 .43 -14.27 1.22 -61.44 .4 -10.84 .37 -3.43 .21 1 .22 3.06 .52 13.38 1.39 53.36 .6 11.41 .28 2.74 .29 .96 .28 -.7 .3 -2.31 .75 -10.19 1.71 -34.95 .57 -8.81 .93 -8.01 .53 -2.31 .55 -1.12 .26 -.13 .28 .11 .58 .91 1.44 4.86 1.49 7.12 2.96 16.5 1.65 7.02 .95 2.86 1.01 2.28 1.1 1.74 1.18 1.21 1.55 .76 1.7 .03 1.86 -.71 2.01 -1.44 2.09 -2.09 2.25 -2.81 9.29 -13.98 2.32 -3.1 2.19 -2.49 2.68 -2.41 2.63 -1.65 2.54 -.86 1.24 -.13 1.19 .07 2.15 .68 2 1.4 1.85 2.1 1.73 2.85 1.44 3.14 1.45 3.9 4.48 14.71 1.82 5.23 .96 2.25 .86 1.57 .78 .89 .7 .25 .44 -.19 .42 -.47 .77 -1.82 .71 -2.97 .62 -4.09 .84 -8.7 1.41 -21.22 .87 -10.7 .88 -8.27 .35 -1.9 .32 -.61 .35 .85 .34 2.54 .71 10.6 1.6 51.54 .56 12.19 .24 2.73 .22 .75 .42 -3.84 .44 -11.3 1.24 -58.68 .46 -14.17 .38 -4.31 .31 3.25 .35 10.09 1.18 64.74 .41 14.63 .35 4.29 .29 -3.4 .3 -9.82 1.11 -65.36 .4 -15.41 .35 -4.87 .27 3.1 .3 9.65 1.1 66.08 .4 15.75 .34 4.93 .27 -3.01 .29 -9.49 1.11 -66.27 .4 -15.8 .34 -4.94 .35 4.67 .39 15.1 1.13 66.17 .31 9.68 .28 3.24 .35 -4.47 .42 -14.77 1.17 -64.28 .34 -10.16 .32 -3.32 .38 4.31 .45 14.17 1.25 58.92 .45 11.26 .42 3.65 .22 -.88 .24 -2.84 .57 -12.54 1.57 -50.8 .7 -10.64 .34 -2.6 .35 -.91 .32 .57 .35 1.86 .89 8.3 .87 10.75 1.41 21.17 .81 8.52 .6 4.04 .68 2.97 .74 1.9 .4 .55 .41 .27 .72 -.11 .79 -.8 .88 -1.53 .99 -2.26 1.87 -5.33 4.55 -14.92 1.46 -3.91 1.45 -3.14 1.72 -2.81 1.84 -2.08 1.99 -1.37 2.13 -.67 1.2 -.07 1.23 .13 2.54 .86 2.63 1.65 2.68 2.42 2.19 2.49 2.31 3.09 9.29 13.98 2.26 2.81 2.09 2.09 2.01 1.44 1.86 .71 1.7 -.03 1.55 -.76 1.2 -1.24 1.12 -1.79 1.02 -2.35 .96 -2.96 1.63 -7 2.86 -15.96 1.4 -6.81 1.4 -5.03 .57 -1.15 .52 -.31 .31 .22 .29 .56 .56 2.09 .54 3.47 .48 4.61 .6 9.12 1.77 36.03 .74 9.75 .3 2.12 .28 .53 .27 -1.09 .28 -2.84 .59 -11.35 1.39 -53.29 .52 -13.33 .22 -3.02 .2 -.97 .38 3.5 .39 10.64 1.23 61.86 .43 14.15 .37 4.21 .3 -3.38 .33 -9.95 1.15 -65.03 .4 -14.89 .35 -4.57 .35 4.95 .41 15.85 1.11 66.12 .3 9.33 .27 2.91 .35 -5.09 .4 -15.82 1.09 -66.05 .29 -9.54 .27 -3.06 .28 3.1 .29 9.55 1.09 65.36 .4 16.09 .35 5.26 .28 -2.75 .3 -9.14 1.13 -65.39 .42 -16 .37 -5.13 .36 4.37 .42 14.49 1.19 62.93 .36 10.45 .34 3.63 .19 -.84 .21 -3.01 .47 -13.47 1.33 -57.03 .51 -11.4 .23 -2.75 .24 -1.04 .25 .73 .26 2.52 .65 11.49 1.83 47.47 .77 9.23 .41 2.6 .41 1.22 .2 .11 .21 -.17 .43 -1.18 1.09 -6.15 1.2 -9.36 2.07 -19.37 1.18 -7.91 .77 -3.43 .86 -2.59 .95 -1.76 1.06 -.94 1.08 -.15 1.2 .56 1.33 1.26 1.47 1.99 2.66 4.71 6.78 13.84 2.15 3.6 2.11 2.86 2.3 2.38 2.39 1.71 2.46 1.04 2.52 .35" stroke="#e41a1c" stroke-width="0.8" stroke-opacity="1" stroke-dasharray="2.2 1.0"/>
<path d="M339.05 237.24l2.56 -.35 2.52 -1.04 2.43 -1.72 2.34 -2.39 2.14 -2.87 2.17 -3.6 6.84 -13.8 2.66 -4.64 1.46 -1.96 1.32 -1.25 1.19 -.54 1.07 .15 1.05 .95 .95 1.77 .85 2.6 .76 3.45 1.16 7.93 2.05 19.44 1.19 9.5 1.06 6.11 .43 1.19 .2 .16 .19 -.11 .41 -1.24 .39 -2.6 .77 -9.41 1.79 -47.93 .64 -11.48 .25 -2.52 .24 -.71 .23 1.05 .23 2.8 .5 11.45 1.3 57.81 .46 13.35 .2 3.02 .19 .84 .33 -3.63 .35 -10.49 1.17 -63.74 .4 -14.43 .35 -4.38 .36 5.03 .41 16.05 1.12 66.19 .29 9.22 .27 2.72 .33 -5.26 .4 -15.99 1.07 -66.3 .28 -9.5 .27 -3.11 .26 3.07 .29 9.65 1.08 66.83 .38 15.72 .34 5.09 .26 -2.87 .29 -9.41 1.09 -66.74 .4 -15.96 .35 -4.98 .34 4.54 .39 14.95 1.13 65.68 .31 10.08 .3 3.37 .36 -4.2 .41 -14.1 1.21 -62.67 .39 -10.7 .36 -3.49 .21 .98 .21 3.06 .5 13.4 1.36 53.7 .58 11.52 .27 2.88 .27 1.11 .27 -.53 .29 -2.1 .72 -9.74 1.75 -36.5 .58 -9.07 .47 -4.67 .53 -3.51 .56 -2.12 .28 -.56 .31 -.23 .5 .31 .56 1.14 1.37 5 1.4 6.86 2.83 15.96 1.63 7.03 .96 2.98 1.02 2.37 1.12 1.79 1.21 1.25 1.55 .76 1.69 .04 1.86 -.7 2.02 -1.42 2.1 -2.06 2.28 -2.78 9.44 -13.92 2.37 -3.08 2.23 -2.49 2.73 -2.41 2.67 -1.64 2.58 -.86 1.25 -.12 1.21 .07 2.16 .68 2.01 1.39 1.85 2.08 1.74 2.82 1.46 3.16 1.46 3.92 4.55 14.9 1.85 5.3 .98 2.23 .87 1.51 .77 .79 .71 .11 .41 -.28 .39 -.55 .74 -1.92 .67 -3 .59 -4.07 .79 -8.56 1.38 -21.24 .87 -10.93 .86 -8.29 .34 -1.87 .32 -.58 .34 .9 .33 2.62 .69 10.79 1.55 51.43 .55 12.49 .23 2.8 .22 .88 .4 -3.68 .44 -11.27 1.23 -59.83 .44 -14.01 .37 -4.31 .31 3.32 .33 10.17 1.15 65.09 .4 14.72 .34 4.5 .28 -3.18 .3 -9.75 1.11 -66.8 .38 -15.21 .34 -4.71 .33 4.87 .39 15.66 1.09 67.39 .29 9.41 .26 2.97 .33 -4.93 .39 -15.64 1.08 -67.03 .29 -9.6 .27 -3.1 .33 4.81 .39 15.28 1.1 66.48 .29 9.74 .28 3.34 .34 -4.32 .4 -14.57 1.16 -65.56 .34 -10.1 .31 -3.25 .37 4.39 .44 14.21 1.21 59.19 .44 11.43 .4 3.87 .22 -.75 .23 -2.68 .55 -12.24 1.57 -52.08 .69 -10.71 .34 -2.58 .34 -.86 .31 .61 .34 1.89 .85 8.24 .87 10.93 1.39 21.35 .82 8.71 .61 4.12 .7 2.98 .77 1.83 .41 .48 .43 .19 .69 -.25 .76 -.88 .85 -1.54 .96 -2.23 1.8 -5.2 4.49 -14.7 1.45 -3.92 1.45 -3.14 1.74 -2.86 1.86 -2.12 2.02 -1.4 2.18 -.69 1.21 -.07 1.25 .12 2.58 .85 2.67 1.64 2.73 2.42 2.23 2.49 2.37 3.08 9.44 13.92 2.28 2.78 2.1 2.06 2.02 1.42 1.86 .7 1.69 -.04 1.55 -.76 1.19 -1.21 1.1 -1.76 1.01 -2.29 .95 -2.9 1.65 -7.05 2.93 -16.5 1.48 -7.16 1.41 -4.81 .57 -.91 .27 -.1 .25 .12 .55 1.12 .52 2.34 .92 8.08 .55 8.8 1.69 35.4 .73 10.2 .29 2.29 .27 .7 .28 -.95 .27 -2.75 .59 -11.55 1.37 -53.98 .5 -13.33 .42 -4.11 .36 3.49 .39 10.83 1.2 62.24 .42 14.23 .36 4.37 .3 -3.29 .31 -10.01 1.13 -65.66 .39 -15.02 .34 -4.64 .28 3.13 .29 9.73 1.1 67.07 .39 15.34 .33 4.69 .33 -4.88 .39 -15.58 1.09 -67.34 .28 -9.49 .26 -3.07 .27 3.11 .28 9.5 1.08 66.3 .39 15.99 .34 5.26 .27 -2.72 .29 -9.22 1.11 -66.19 .42 -16.05 .35 -5.03 .35 4.38 .41 14.43 1.16 63.74 .36 10.49 .32 3.63 .19 -.84 .2 -3.02 .46 -13.35 1.31 -57.81 .49 -11.45 .23 -2.8 .23 -1.05 .24 .71 .26 2.52 .63 11.48 1.8 47.93 .76 9.41 .4 2.6 .4 1.24 .2 .11 .2 -.16 .42 -1.19 1.06 -6.11 1.2 -9.5 2.04 -19.44 1.16 -7.93 .77 -3.45 .85 -2.6 .94 -1.77 1.05 -.95 1.08 -.15 1.18 .54 1.32 1.25 1.46 1.96 2.66 4.64 6.84 13.8 2.18 3.6 2.13 2.87 2.35 2.39 2.43 1.72 2.51 1.04 2.56 .35" stroke="#1f77b4" stroke-width="0.8" stroke-opacity="0.6"/>
<path d="M339.05 236.82l2.73 -.35 2.67 -1.06 2.57 -1.74 2.48 -2.42 2.25 -2.9 2.28 -3.63 7.02 -13.65 2.64 -4.46 1.43 -1.86 1.28 -1.17 1.15 -.5 1.03 .18 1.02 .97 .93 1.81 .82 2.65 .74 3.55 1.1 8.02 1.94 19.55 1.18 10.04 .97 6 .39 1.17 .18 .18 .18 -.1 .38 -1.24 .37 -2.68 .73 -9.82 1.69 -49.73 .57 -11.33 .23 -2.53 .22 -.74 .42 3.92 .46 11.75 1.23 60.38 .41 13.12 .36 3.82 .3 -3.64 .32 -10.52 1.1 -66.54 .37 -14.33 .32 -4.37 .26 3.3 .27 9.76 1.07 70.02 .35 14.52 .31 4.33 .31 -5.26 .35 -16.01 1.01 -68.82 .26 -9.63 .25 -3.15 .3 4.8 .35 15.52 1.03 69.93 .26 9.65 .24 3.17 .3 -4.73 .35 -15.14 1.04 -69.86 .27 -9.75 .25 -3.2 .31 4.6 .35 14.83 1.07 68.48 .29 10.19 .27 3.25 .33 -4.45 .37 -14.22 1.14 -64.73 .35 -10.97 .34 -3.52 .37 3.99 .45 13.21 1.3 56.3 .54 11.91 .25 2.86 .26 .98 .25 -.73 .26 -2.29 .66 -10.11 2.12 -45.69 .88 -8.39 .49 -2.4 .52 -1.13 .24 -.11 .24 .11 .53 .88 1.3 4.71 1.45 7.28 2.86 16.56 1.61 7.13 .94 2.97 1.01 2.35 1.11 1.79 1.21 1.24 1.53 .76 1.68 .06 1.86 -.65 2.03 -1.34 2.14 -1.98 2.35 -2.68 9.98 -13.72 2.52 -3.07 2.38 -2.48 2.89 -2.39 2.82 -1.62 2.72 -.83 1.31 -.11 1.26 .09 2.26 .71 2.08 1.44 1.91 2.14 1.78 2.9 1.47 3.18 1.48 3.97 4.48 14.67 1.76 5.11 1.71 3.62 .71 .84 .65 .22 .41 -.19 .4 -.49 .74 -1.87 .66 -3.05 .59 -4.24 .76 -8.72 1.31 -21.8 .86 -11.73 .78 -8.13 .3 -1.87 .29 -.59 .31 .89 .32 2.7 .64 11.19 1.48 53.97 .49 12.1 .21 2.72 .2 .76 .36 -3.84 .4 -11.51 1.16 -62.12 .39 -13.94 .34 -4.4 .28 3.24 .31 10.18 1.1 68.45 .35 14.39 .31 4.27 .26 -3.34 .27 -9.87 1.04 -69.27 .35 -15.18 .3 -4.7 .25 3.2 .26 9.78 1.03 69.63 .34 15.44 .3 4.95 .25 -3.04 .26 -9.55 1.02 -69.81 .36 -15.69 .3 -4.91 .31 4.59 .34 15.11 1.05 69.61 .27 9.8 .26 3.26 .31 -4.58 .36 -14.62 1.09 -67.76 .3 -10.26 .29 -3.32 .33 4.22 .39 13.81 1.17 62.69 .4 11.39 .37 3.71 .2 -.87 .21 -2.81 .49 -12.34 1.46 -53.37 .64 -11.28 .32 -2.74 .31 -.93 .29 .57 .31 1.86 .77 8.16 .86 11.73 1.31 21.68 .74 8.6 .56 4.18 .64 3.07 .71 1.96 .38 .56 .4 .28 .65 -.1 .73 -.76 .82 -1.44 .93 -2.15 1.81 -5.21 4.54 -14.85 1.48 -3.97 1.48 -3.18 1.77 -2.86 1.9 -2.13 2.08 -1.41 2.24 -.71 1.26 -.09 1.31 .11 2.72 .83 2.82 1.62 2.89 2.39 2.38 2.48 2.52 3.07 9.98 13.72 2.34 2.68 2.15 1.98 2.03 1.34 1.86 .65 1.68 -.06 1.53 -.76 1.23 -1.27 1.12 -1.83 1.03 -2.42 .95 -3.06 1.59 -7.11 2.76 -16.04 1.37 -7 1.28 -4.89 .52 -1.1 .46 -.3 .29 .24 .27 .57 .53 2.18 .95 8.47 .53 9.12 1.67 37.94 .64 9.64 .27 2.13 .24 .55 .25 -1.12 .25 -2.93 .54 -12 1.29 -56.12 .45 -13.08 .38 -3.99 .32 3.52 .36 10.83 1.15 65.52 .37 13.85 .33 4.17 .26 -3.42 .29 -10.18 1.07 -68.5 .35 -14.75 .31 -4.5 .31 4.99 .36 15.82 1.04 69.51 .26 9.4 .24 2.95 .31 -5.1 .35 -15.72 1.01 -69.37 .26 -9.69 .25 -3.18 .24 3.15 .26 9.63 1.01 68.82 .36 16.01 .31 5.26 .31 -4.33 .34 -14.52 1.08 -70.02 .27 -9.76 .26 -3.3 .32 4.37 .36 14.33 1.11 66.54 .32 10.52 .3 3.64 .35 -3.82 .41 -13.12 1.24 -60.38 .46 -11.75 .42 -3.92 .22 .74 .23 2.53 .56 11.33 1.7 49.73 .73 9.82 .37 2.68 .38 1.24 .18 .1 .18 -.18 .39 -1.17 .96 -6 1.18 -10.04 1.94 -19.55 1.1 -8.02 .75 -3.55 .82 -2.65 .92 -1.81 1.03 -.97 1.03 -.18 1.15 .5 1.28 1.16 1.42 1.87 2.65 4.47 7.02 13.64 2.28 3.63 2.25 2.9 2.47 2.42 2.58 1.74 2.67 1.06 2.73 .35" stroke="#ff7f0e" stroke-width="0.8" stroke-opacity="0.8"/>
<path d="M339.05 236.20l3 -.36 2.93 -1.08 2.81 -1.78 2.69 -2.47 2.42 -2.95 2.44 -3.69 7.28 -13.47 2.57 -4.18 1.36 -1.71 1.21 -1.05 1.07 -.43 .96 .21 .99 1.01 .88 1.88 .79 2.76 .7 3.68 1 8.12 1.79 19.87 1.16 11.02 .82 5.72 .33 1.14 .15 .19 .15 -.08 .35 -1.25 .34 -2.86 .67 -10.56 1.55 -52.89 .47 -10.88 .19 -2.47 .19 -.72 .37 4.03 .4 12.04 1.13 64.69 .35 12.82 .3 3.72 .26 -3.7 .27 -10.58 1.02 -71.23 .3 -14.04 .28 -4.27 .22 3.42 .24 9.98 .97 74.03 .3 14.46 .26 4.46 .27 -5.04 .3 -15.55 .92 -73.75 .23 -9.81 .22 -3.13 .21 3.27 .23 9.95 .92 73.73 .29 15.5 .27 5.02 .21 -2.96 .23 -9.61 .94 -74.14 .3 -15.48 .27 -4.89 .27 4.53 .29 14.46 .98 73.01 .25 10.26 .23 3.51 .28 -4.06 .31 -13.61 1.06 -70.23 .3 -10.88 .29 -3.52 .32 3.92 .37 12.72 1.18 59.92 .48 12.66 .22 3.05 .23 1.15 .21 -.56 .22 -2.08 .53 -9.31 2.02 -49.74 .87 -8.97 .48 -2.31 .51 -.84 .41 .29 .45 1.04 1.12 4.64 1.35 7.33 2.63 16.22 1.53 7.28 .95 3.18 1.02 2.5 1.12 1.88 1.24 1.29 1.49 .75 1.65 .09 1.84 -.56 2.03 -1.23 2.19 -1.85 2.42 -2.51 10.83 -13.45 2.78 -3.06 2.62 -2.47 3.17 -2.37 3.07 -1.59 2.94 -.8 1.4 -.09 1.34 .11 2.36 .75 2.17 1.46 1.97 2.18 1.81 2.94 1.51 3.24 1.5 4.05 4.5 14.88 1.73 5.05 1.58 3.34 .65 .7 .58 .1 .38 -.28 .36 -.58 .66 -2.03 .6 -3.22 .52 -4.36 .66 -8.71 2.04 -35.65 .65 -7.79 .26 -1.75 .24 -.55 .29 .98 .27 2.88 .59 12.07 1.32 56.75 .41 11.97 .35 3.63 .32 -3.78 .34 -11.41 1.08 -67.39 .33 -13.42 .29 -4.2 .24 3.39 .27 10.42 .99 72.3 .3 14.31 .27 4.54 .22 -3.3 .24 -10.1 .95 -73.92 .29 -14.79 .27 -4.68 .21 3.28 .23 9.89 .94 74.43 .29 15.09 .26 4.73 .26 -4.85 .29 -14.97 .94 -74.43 .22 -9.89 .22 -3.28 .26 4.68 .3 14.79 .95 73.92 .23 10 .22 3.4 .27 -4.31 .3 -14.14 1 -72.88 .26 -10.24 .25 -3.39 .29 4.3 .33 13.5 1.07 66.91 .34 11.55 .32 3.93 .34 -3.41 .41 -11.69 1.34 -57.34 .59 -12.02 .27 -2.86 .29 -.96 .24 .58 .26 1.77 .64 7.75 2.05 35.77 .68 8.82 .54 4.4 .62 3.21 .69 1.95 .37 .51 .4 .2 .57 -.21 .64 -.78 1.55 -3.36 1.68 -4.97 4.45 -14.7 1.5 -4.05 1.49 -3.24 1.83 -2.97 1.97 -2.21 2.17 -1.47 2.38 -.76 1.34 -.11 1.4 .09 2.94 .8 3.07 1.59 3.17 2.36 2.62 2.48 2.79 3.06 10.83 13.46 2.42 2.51 2.18 1.84 2.04 1.23 1.84 .56 1.65 -.09 1.48 -.74 1.22 -1.27 1.12 -1.84 1 -2.44 .94 -3.11 1.56 -7.3 2.71 -16.7 1.41 -7.59 1.14 -4.46 .46 -.84 .21 -.11 .2 .09 .48 1.16 .46 2.52 .81 8.87 1.95 48.61 .55 9.65 .22 2.21 .21 .71 .23 -1.03 .22 -2.98 .49 -12.62 1.18 -60.16 .38 -12.72 .32 -3.92 .29 3.6 .3 10.96 1.05 69.7 .31 13.77 .28 4.27 .24 -3.41 .25 -10.18 .97 -73.19 .3 -14.46 .26 -4.53 .22 3.32 .24 9.93 .94 74.13 .29 14.97 .26 4.73 .27 -4.77 .29 -15.31 .93 -74.36 .23 -9.87 .21 -3.16 .22 3.23 .22 9.71 .93 73.75 .3 15.55 .27 5.04 .26 -4.46 .29 -14.46 .97 -74.03 .24 -9.98 .23 -3.42 .27 4.27 .31 14.04 1.02 71.23 .27 10.58 .26 3.7 .3 -3.72 .35 -12.82 1.13 -64.69 .4 -12.04 .37 -4.03 .18 .72 .2 2.47 .47 10.88 1.55 52.89 .66 10.56 .35 2.86 .34 1.25 .16 .08 .15 -.19 .33 -1.14 .82 -5.72 1.16 -11.02 1.79 -19.87 1 -8.12 .7 -3.68 .78 -2.76 .89 -1.88 .99 -1.01 .96 -.21 1.07 .43 1.2 1.05 1.37 1.71 2.57 4.18 7.27 13.47 2.44 3.69 2.43 2.95 2.69 2.47 2.8 1.78 2.94 1.08 3 .36" stroke="#2ca02c" stroke-width="0.8" stroke-opacity="0.9"/>
</g>
<path d="M339.05 282.40v-3.4M339.05 163.50v3.4M398.33 282.40v-3.4M398.33 163.50v3.4M457.61 282.40v-3.4M457.61 163.50v3.4M516.89 282.40v-3.4M516.89 163.50v3.4M576.17 282.40v-3.4M576.17 163.50v3.4M635.45 282.40v-3.4M635.45 163.50v3.4M322.40 271.71h3.4M682.70 271.71h-3.4M322.40 255.55h3.4M682.70 255.55h-3.4M322.40 239.39h3.4M682.70 239.39h-3.4M322.40 223.23h3.4M682.70 223.23h-3.4M322.40 207.07h3.4M682.70 207.07h-3.4M322.40 190.91h3.4M682.70 190.91h-3.4M322.40 174.75h3.4M682.70 174.75h-3.4" stroke="#000" stroke-width="0.8" fill="none"/>
<path d="M324.23 282.40v-1.9M324.23 163.50v1.9M339.05 282.40v-1.9M339.05 163.50v1.9M353.87 282.40v-1.9M353.87 163.50v1.9M368.69 282.40v-1.9M368.69 163.50v1.9M383.51 282.40v-1.9M383.51 163.50v1.9M398.33 282.40v-1.9M398.33 163.50v1.9M413.15 282.40v-1.9M413.15 163.50v1.9M427.97 282.40v-1.9M427.97 163.50v1.9M442.79 282.40v-1.9M442.79 163.50v1.9M457.61 282.40v-1.9M457.61 163.50v1.9M472.43 282.40v-1.9M472.43 163.50v1.9M487.25 282.40v-1.9M487.25 163.50v1.9M502.07 282.40v-1.9M502.07 163.50v1.9M516.89 282.40v-1.9M516.89 163.50v1.9M531.71 282.40v-1.9M531.71 163.50v1.9M546.53 282.40v-1.9M546.53 163.50v1.9M561.35 282.40v-1.9M561.35 163.50v1.9M576.17 282.40v-1.9M576.17 163.50v1.9M590.99 282.40v-1.9M590.99 163.50v1.9M605.81 282.40v-1.9M605.81 163.50v1.9M620.63 282.40v-1.9M620.63 163.50v1.9M635.45 282.40v-1.9M635.45 163.50v1.9M650.27 282.40v-1.9M650.27 163.50v1.9M665.09 282.40v-1.9M665.09 163.50v1.9M679.91 282.40v-1.9M679.91 163.50v1.9M322.40 281.41h1.9M682.70 281.41h-1.9M322.40 278.17h1.9M682.70 278.17h-1.9M322.40 274.94h1.9M682.70 274.94h-1.9M322.40 271.71h1.9M682.70 271.71h-1.9M322.40 268.48h1.9M682.70 268.48h-1.9M322.40 265.25h1.9M682.70 265.25h-1.9M322.40 262.01h1.9M682.70 262.01h-1.9M322.40 258.78h1.9M682.70 258.78h-1.9M322.40 255.55h1.9M682.70 255.55h-1.9M322.40 252.32h1.9M682.70 252.32h-1.9M322.40 249.09h1.9M682.70 249.09h-1.9M322.40 245.85h1.9M682.70 245.85h-1.9M322.40 242.62h1.9M682.70 242.62h-1.9M322.40 239.39h1.9M682.70 239.39h-1.9M322.40 236.16h1.9M682.70 236.16h-1.9M322.40 232.93h1.9M682.70 232.93h-1.9M322.40 229.69h1.9M682.70 229.69h-1.9M322.40 226.46h1.9M682.70 226.46h-1.9M322.40 223.23h1.9M682.70 223.23h-1.9M322.40 220.00h1.9M682.70 220.00h-1.9M322.40 216.77h1.9M682.70 216.77h-1.9M322.40 213.53h1.9M682.70 213.53h-1.9M322.40 210.30h1.9M682.70 210.30h-1.9M322.40 207.07h1.9M682.70 207.07h-1.9M322.40 203.84h1.9M682.70 203.84h-1.9M322.40 200.61h1.9M682.70 200.61h-1.9M322.40 197.37h1.9M682.70 197.37h-1.9M322.40 194.14h1.9M682.70 194.14h-1.9M322.40 190.91h1.9M682.70 190.91h-1.9M322.40 187.68h1.9M682.70 187.68h-1.9M322.40 184.45h1.9M682.70 184.45h-1.9M322.40 181.21h1.9M682.70 181.21h-1.9M322.40 177.98h1.9M682.70 177.98h-1.9M322.40 174.75h1.9M682.70 174.75h-1.9M322.40 171.52h1.9M682.70 171.52h-1.9M322.40 168.29h1.9M682.70 168.29h-1.9M322.40 165.05h1.9M682.70 165.05h-1.9" stroke="#000" stroke-width="0.64" fill="none"/>
<rect x="322.40" y="163.50" width="360.30" height="118.90" fill="none" stroke="#000" stroke-width="0.55"/>
<rect x="639.3" y="165.9" width="41.0" height="34.599999999999994" rx="1.2" fill="#fff" fill-opacity="0.8" stroke="#ccc" stroke-width="0.6"/>
<path d="M641.8 171H652.8" stroke="#e41a1c" stroke-width="0.8" stroke-opacity="1" stroke-dasharray="2 0.9"/>
<path d="M641.8 178.9H652.8" stroke="#1f77b4" stroke-width="0.8" stroke-opacity="0.6"/>
<path d="M641.8 187H652.8" stroke="#ff7f0e" stroke-width="0.8" stroke-opacity="0.8"/>
<path d="M641.8 195.1H652.8" stroke="#2ca02c" stroke-width="0.8" stroke-opacity="0.9"/>
<text x="453.05" y="136.85" font-size="6.63" textLength="11.16" lengthAdjust="spacingAndGlyphs">400</text>
<text x="338.00" y="136.85" font-size="6.63" textLength="3.79" lengthAdjust="spacingAndGlyphs">0</text>
<text x="393.65" y="136.85" font-size="6.63" textLength="11.41" lengthAdjust="spacingAndGlyphs">200</text>
<text x="512.20" y="136.85" font-size="6.63" textLength="11.41" lengthAdjust="spacingAndGlyphs">600</text>
<text x="571.60" y="136.85" font-size="6.63" textLength="11.16" lengthAdjust="spacingAndGlyphs">800</text>
<text x="628.58" y="136.85" font-size="6.63" textLength="15.65" lengthAdjust="spacingAndGlyphs">1000</text>
<text x="307.08" y="119.04" font-size="6.63" textLength="14.04" lengthAdjust="spacingAndGlyphs">&#8722;1.5</text>
<text x="306.95" y="103.92" font-size="6.63" textLength="14.04" lengthAdjust="spacingAndGlyphs">&#8722;1.0</text>
<text x="307.08" y="88.56" font-size="6.63" textLength="14.04" lengthAdjust="spacingAndGlyphs">&#8722;0.5</text>
<text x="311.90" y="73.44" font-size="6.63" textLength="9.12" lengthAdjust="spacingAndGlyphs">0.0</text>
<text x="311.90" y="58.33" font-size="6.63" textLength="9.12" lengthAdjust="spacingAndGlyphs">0.5</text>
<text x="311.52" y="42.96" font-size="6.63" textLength="9.37" lengthAdjust="spacingAndGlyphs">1.0</text>
<text x="311.52" y="27.85" font-size="6.63" textLength="9.62" lengthAdjust="spacingAndGlyphs">1.5</text>
<text x="337.15" y="289.95" font-size="6.63" textLength="3.54" lengthAdjust="spacingAndGlyphs">0</text>
<text x="392.62" y="289.95" font-size="6.63" textLength="11.41" lengthAdjust="spacingAndGlyphs">200</text>
<text x="452.08" y="289.95" font-size="6.63" textLength="11.16" lengthAdjust="spacingAndGlyphs">400</text>
<text x="511.17" y="289.95" font-size="6.63" textLength="11.41" lengthAdjust="spacingAndGlyphs">600</text>
<text x="570.51" y="289.95" font-size="6.63" textLength="11.41" lengthAdjust="spacingAndGlyphs">800</text>
<text x="627.55" y="289.95" font-size="6.63" textLength="15.65" lengthAdjust="spacingAndGlyphs">1000</text>
<text x="306.03" y="274.53" font-size="6.63" textLength="14.04" lengthAdjust="spacingAndGlyphs">&#8722;1.5</text>
<text x="305.90" y="258.30" font-size="6.63" textLength="14.04" lengthAdjust="spacingAndGlyphs">&#8722;1.0</text>
<text x="306.03" y="242.07" font-size="6.63" textLength="14.04" lengthAdjust="spacingAndGlyphs">&#8722;0.5</text>
<text x="310.60" y="226.09" font-size="6.63" textLength="9.37" lengthAdjust="spacingAndGlyphs">0.0</text>
<text x="310.60" y="209.86" font-size="6.63" textLength="9.37" lengthAdjust="spacingAndGlyphs">0.5</text>
<text x="310.35" y="193.63" font-size="6.63" textLength="9.62" lengthAdjust="spacingAndGlyphs">1.0</text>
<text x="310.35" y="177.40" font-size="6.63" textLength="9.62" lengthAdjust="spacingAndGlyphs">1.5</text>
<text x="80.20" y="269.90" font-size="8.36" textLength="15.99" lengthAdjust="spacingAndGlyphs">&#8722;10</text>
<text x="23.65" y="269.90" font-size="8.36" textLength="15.99" lengthAdjust="spacingAndGlyphs">&#8722;20</text>
<text x="51.92" y="269.90" font-size="8.36" textLength="15.99" lengthAdjust="spacingAndGlyphs">&#8722;15</text>
<text x="111.20" y="269.90" font-size="8.36" textLength="10.73" lengthAdjust="spacingAndGlyphs">&#8722;5</text>
<text x="142.90" y="269.90" font-size="8.36" textLength="4.06" lengthAdjust="spacingAndGlyphs">0</text>
<text x="171.05" y="269.90" font-size="8.36" textLength="4.06" lengthAdjust="spacingAndGlyphs">5</text>
<text x="196.80" y="269.90" font-size="8.36" textLength="9.11" lengthAdjust="spacingAndGlyphs">10</text>
<text x="225.08" y="269.90" font-size="8.36" textLength="9.11" lengthAdjust="spacingAndGlyphs">15</text>
<text x="253.60" y="269.90" font-size="8.36" textLength="8.86" lengthAdjust="spacingAndGlyphs">20</text>
<text x="12.90" y="236.98" font-size="8.36" textLength="15.99" lengthAdjust="spacingAndGlyphs">&#8722;15</text>
<text x="12.90" y="208.80" font-size="8.36" textLength="15.99" lengthAdjust="spacingAndGlyphs">&#8722;10</text>
<text x="18.17" y="180.38" font-size="8.36" textLength="10.73" lengthAdjust="spacingAndGlyphs">&#8722;5</text>
<text x="25.00" y="152.20" font-size="8.36" textLength="3.81" lengthAdjust="spacingAndGlyphs">0</text>
<text x="24.87" y="124.03" font-size="8.36" textLength="4.06" lengthAdjust="spacingAndGlyphs">5</text>
<text x="19.77" y="95.85" font-size="8.36" textLength="9.11" lengthAdjust="spacingAndGlyphs">10</text>
<text x="19.77" y="67.68" font-size="8.36" textLength="9.11" lengthAdjust="spacingAndGlyphs">15</text>
<text x="130.25" y="32.50" font-size="10.38" textLength="29.97" lengthAdjust="spacingAndGlyphs"><tspan font-style="italic">k</tspan>=1.5</text>
<text x="38.85" y="50.00" font-size="8.37" textLength="30.52" lengthAdjust="spacingAndGlyphs">(3,2,2)</text>
<text x="142.67" y="282.05" font-size="9.74" textLength="4.51" lengthAdjust="spacingAndGlyphs">x</text>
<text x="7.80" y="152.10" font-size="10.50" transform="rotate(-90 7.80 152.10)">y</text>
<text x="499.30" y="142.35" font-size="8.16" textLength="10.68" lengthAdjust="spacingAndGlyphs">&#964;/s</text>
<text x="497.85" y="294.40" font-size="8.16" textLength="10.58" lengthAdjust="spacingAndGlyphs">&#964;/s</text>
<text x="301.18" y="95.32" font-size="6.31" textLength="50.02" lengthAdjust="spacingAndGlyphs" transform="rotate(-90 301.18 95.32)"><tspan font-style="italic">h</tspan><tspan font-size="70%" dy="1.0">+</tspan><tspan dy="-1.0"> (&#215;10</tspan><tspan font-size="70%" dy="-3.2">&#8722;21</tspan><tspan dy="3.2">)</tspan></text>
<text x="300.30" y="245.80" font-size="6.31" textLength="44.52" lengthAdjust="spacingAndGlyphs" transform="rotate(-90 300.30 245.80)"><tspan font-style="italic">h</tspan><tspan font-size="70%" dy="1.0">&#215;</tspan><tspan dy="-1.0"> (&#215;10</tspan><tspan font-size="70%" dy="-3.2">&#8722;21</tspan><tspan dy="3.2">)</tspan></text>
<text x="225.62" y="48.60" font-size="7.80" textLength="19.46" lengthAdjust="spacingAndGlyphs" style="font-family:'Liberation Serif',serif"><tspan font-style="italic">Q</tspan><tspan font-style="italic" font-size="70%" dy="1.3">m</tspan><tspan dy="-1.3">=</tspan>0</text>
<text x="225.57" y="58.60" font-size="7.80" textLength="26.15" lengthAdjust="spacingAndGlyphs" style="font-family:'Liberation Serif',serif"><tspan font-style="italic">Q</tspan><tspan font-style="italic" font-size="70%" dy="1.3">m</tspan><tspan dy="-1.3">=</tspan>0.5</text>
<text x="225.57" y="68.60" font-size="7.80" textLength="26.15" lengthAdjust="spacingAndGlyphs" style="font-family:'Liberation Serif',serif"><tspan font-style="italic">Q</tspan><tspan font-style="italic" font-size="70%" dy="1.3">m</tspan><tspan dy="-1.3">=</tspan>0.8</text>
<text x="225.62" y="78.60" font-size="7.80" textLength="19.71" lengthAdjust="spacingAndGlyphs" style="font-family:'Liberation Serif',serif"><tspan font-style="italic">Q</tspan><tspan font-style="italic" font-size="70%" dy="1.3">m</tspan><tspan dy="-1.3">=</tspan>1</text>
<text x="658.40" y="19.65" font-size="5.70" textLength="15.50" lengthAdjust="spacingAndGlyphs" style="font-family:'Liberation Serif',serif"><tspan font-style="italic">Q</tspan><tspan font-style="italic" font-size="70%" dy="1.0">m</tspan><tspan dy="-1.0">=</tspan>0</text>
<text x="657.01" y="172.15" font-size="5.70" textLength="15.30" lengthAdjust="spacingAndGlyphs" style="font-family:'Liberation Serif',serif"><tspan font-style="italic">Q</tspan><tspan font-style="italic" font-size="70%" dy="1.0">m</tspan><tspan dy="-1.0">=</tspan>0</text>
<text x="658.43" y="27.75" font-size="5.70" textLength="20.46" lengthAdjust="spacingAndGlyphs" style="font-family:'Liberation Serif',serif"><tspan font-style="italic">Q</tspan><tspan font-style="italic" font-size="70%" dy="1.0">m</tspan><tspan dy="-1.0">=</tspan>0.5</text>
<text x="656.94" y="180.24" font-size="5.70" textLength="20.23" lengthAdjust="spacingAndGlyphs" style="font-family:'Liberation Serif',serif"><tspan font-style="italic">Q</tspan><tspan font-style="italic" font-size="70%" dy="1.0">m</tspan><tspan dy="-1.0">=</tspan>0.5</text>
<text x="658.43" y="35.60" font-size="5.70" textLength="20.46" lengthAdjust="spacingAndGlyphs" style="font-family:'Liberation Serif',serif"><tspan font-style="italic">Q</tspan><tspan font-style="italic" font-size="70%" dy="1.0">m</tspan><tspan dy="-1.0">=</tspan>0.8</text>
<text x="656.94" y="188.33" font-size="5.70" textLength="20.23" lengthAdjust="spacingAndGlyphs" style="font-family:'Liberation Serif',serif"><tspan font-style="italic">Q</tspan><tspan font-style="italic" font-size="70%" dy="1.0">m</tspan><tspan dy="-1.0">=</tspan>0.8</text>
<text x="658.40" y="43.70" font-size="5.70" textLength="15.75" lengthAdjust="spacingAndGlyphs" style="font-family:'Liberation Serif',serif"><tspan font-style="italic">Q</tspan><tspan font-style="italic" font-size="70%" dy="1.0">m</tspan><tspan dy="-1.0">=</tspan>1</text>
<text x="657.01" y="196.42" font-size="5.70" textLength="15.55" lengthAdjust="spacingAndGlyphs" style="font-family:'Liberation Serif',serif"><tspan font-style="italic">Q</tspan><tspan font-style="italic" font-size="70%" dy="1.0">m</tspan><tspan dy="-1.0">=</tspan>1</text>
<text x="473.05" y="7.75" font-size="8.50" textLength="26.71" lengthAdjust="spacingAndGlyphs">k=1.5,</text>
<text x="507.40" y="7.75" font-size="8.50" textLength="26.48" lengthAdjust="spacingAndGlyphs">(3,2,2)</text>
<text x="471.88" y="159.85" font-size="8.50" textLength="26.86" lengthAdjust="spacingAndGlyphs">k=1.5,</text>
<text x="506.35" y="159.85" font-size="8.50" textLength="26.58" lengthAdjust="spacingAndGlyphs">(3,2,2)</text>
</svg></body></html>
